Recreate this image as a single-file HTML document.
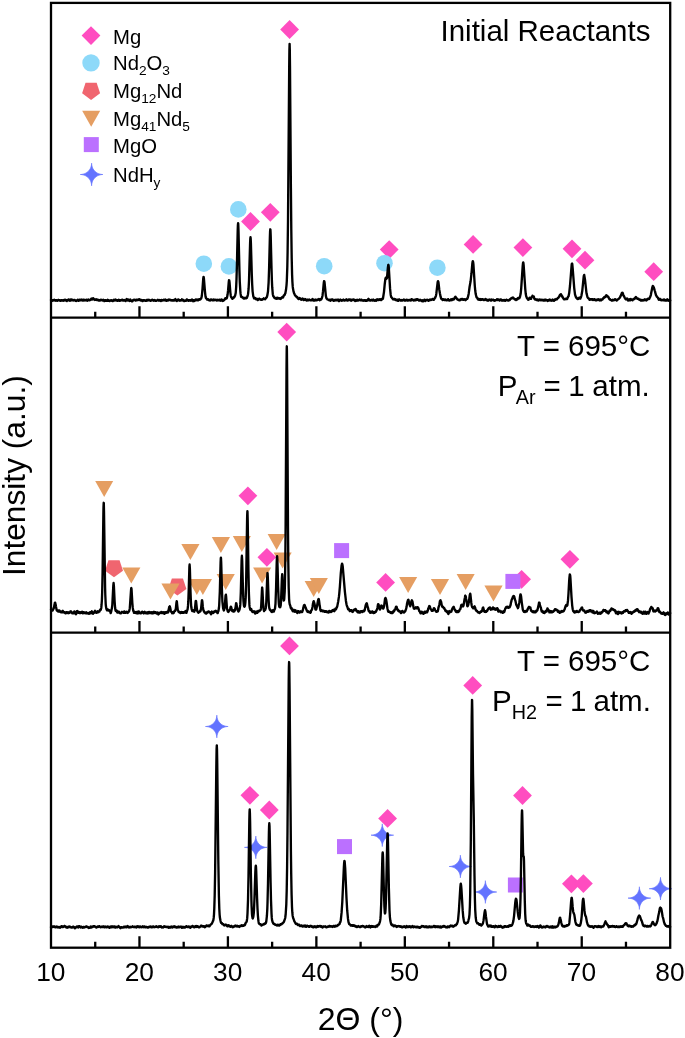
<!DOCTYPE html>
<html><head><meta charset="utf-8"><title>XRD patterns</title>
<style>
html,body{margin:0;padding:0;background:#fff;}
body{width:685px;height:1038px;overflow:hidden;font-family:"Liberation Sans",sans-serif;}
svg{display:block;position:absolute;left:0;top:0;will-change:transform;}
text{-webkit-font-smoothing:antialiased;}
</style></head><body>
<svg width="685" height="1038" viewBox="0 0 685 1038">
<rect width="685" height="1038" fill="#fff"/>
<g fill="#ff4dc0"><path d="M91.0 26.2L100.4 35.6L91.0 45.0L81.6 35.6Z"/><path d="M250.5 212.1L259.9 221.5L250.5 230.9L241.1 221.5Z"/><path d="M270.3 202.9L279.7 212.3L270.3 221.7L260.9 212.3Z"/><path d="M289.6 20.1L299.0 29.5L289.6 38.9L280.2 29.5Z"/><path d="M389.2 240.2L398.6 249.6L389.2 259.0L379.8 249.6Z"/><path d="M473.1 235.0L482.5 244.4L473.1 253.8L463.7 244.4Z"/><path d="M522.9 238.2L532.3 247.6L522.9 257.0L513.5 247.6Z"/><path d="M572.0 239.4L581.4 248.8L572.0 258.2L562.6 248.8Z"/><path d="M585.0 250.8L594.4 260.2L585.0 269.6L575.6 260.2Z"/><path d="M653.7 262.3L663.1 271.7L653.7 281.1L644.3 271.7Z"/><path d="M286.7 322.7L296.1 332.1L286.7 341.5L277.3 332.1Z"/><path d="M247.9 486.4L257.3 495.8L247.9 505.2L238.5 495.8Z"/><path d="M266.9 547.9L276.3 557.3L266.9 566.7L257.5 557.3Z"/><path d="M385.6 573.0L395.0 582.4L385.6 591.8L376.2 582.4Z"/><path d="M521.6 569.9L531.0 579.3L521.6 588.7L512.2 579.3Z"/><path d="M569.9 549.9L579.3 559.3L569.9 568.7L560.5 559.3Z"/><path d="M289.5 636.5L298.9 645.9L289.5 655.3L280.1 645.9Z"/><path d="M249.9 785.9L259.3 795.3L249.9 804.7L240.5 795.3Z"/><path d="M269.3 800.6L278.7 810.0L269.3 819.4L259.9 810.0Z"/><path d="M387.6 809.0L397.0 818.4L387.6 827.8L378.2 818.4Z"/><path d="M472.7 676.0L482.1 685.4L472.7 694.8L463.3 685.4Z"/><path d="M522.5 786.1L531.9 795.5L522.5 804.9L513.1 795.5Z"/><path d="M571.4 874.4L580.8 883.8L571.4 893.2L562.0 883.8Z"/><path d="M583.4 874.2L592.8 883.6L583.4 893.0L574.0 883.6Z"/></g>
<g fill="#8dd9f9"><circle cx="91.0" cy="62.9" r="8.7"/><circle cx="203.8" cy="263.7" r="8.3"/><circle cx="228.9" cy="266.4" r="8.3"/><circle cx="238.3" cy="209.4" r="8.3"/><circle cx="324.2" cy="266.2" r="8.3"/><circle cx="384.5" cy="263.2" r="8.3"/><circle cx="437.4" cy="267.7" r="8.3"/></g>
<g fill="#f0656f"><path d="M91.10 99.90L82.11 93.37L85.55 82.80L96.65 82.80L100.09 93.37Z"/><path d="M114.00 577.35L105.01 570.82L108.45 560.25L119.55 560.25L122.99 570.82Z"/><path d="M177.40 595.55L168.41 589.02L171.85 578.45L182.95 578.45L186.39 589.02Z"/></g>
<g fill="#e59e62"><path d="M82.2 110.8L100.2 110.8L91.2 126.8Z"/><path d="M95.2 480.9L113.2 480.9L104.2 496.9Z"/><path d="M122.3 567.4L140.4 567.4L131.3 583.4Z"/><path d="M161.4 583.5L179.6 583.5L170.5 599.5Z"/><path d="M181.3 543.9L199.5 543.9L190.4 559.9Z"/><path d="M187.8 579.0L205.9 579.0L196.8 595.0Z"/><path d="M193.8 579.0L212.0 579.0L202.9 595.0Z"/><path d="M211.8 537.1L230.0 537.1L220.9 553.1Z"/><path d="M216.6 573.9L234.8 573.9L225.7 589.9Z"/><path d="M232.8 536.1L250.9 536.1L241.8 552.1Z"/><path d="M253.1 567.4L271.2 567.4L262.1 583.4Z"/><path d="M267.6 534.1L285.7 534.1L276.6 550.1Z"/><path d="M273.6 552.5L291.7 552.5L282.6 568.5Z"/><path d="M304.6 581.1L322.8 581.1L313.7 597.1Z"/><path d="M309.8 578.0L327.9 578.0L318.8 594.0Z"/><path d="M399.1 577.0L417.2 577.0L408.1 593.0Z"/><path d="M430.9 579.0L449.1 579.0L440.0 595.0Z"/><path d="M456.6 573.9L474.7 573.9L465.6 589.9Z"/><path d="M484.4 585.6L502.6 585.6L493.5 601.6Z"/></g>
<g fill="#bb70ff"><rect x="83.8" y="137.1" width="15.0" height="15.0"/><rect x="334.1" y="543.1" width="15.0" height="15.0"/><rect x="505.4" y="573.9" width="15.0" height="15.0"/><rect x="337.0" y="839.1" width="15.0" height="15.0"/><rect x="507.9" y="877.5" width="15.0" height="15.0"/></g>
<g fill="#6373ff" stroke="#6373ff" stroke-width="0.7" stroke-linejoin="miter" stroke-miterlimit="20"><path d="M102.90 174.50L102.71 174.50L102.14 174.53L101.24 174.63L100.10 174.86L98.79 175.25L97.41 175.86L96.07 176.70L94.85 177.75L93.80 178.97L92.96 180.31L92.35 181.69L91.96 183.00L91.73 184.14L91.63 185.04L91.60 185.61L91.60 185.80L91.60 185.61L91.57 185.04L91.47 184.14L91.24 183.00L90.85 181.69L90.24 180.31L89.40 178.97L88.35 177.75L87.13 176.70L85.79 175.86L84.41 175.25L83.10 174.86L81.96 174.63L81.06 174.53L80.49 174.50L80.30 174.50L80.49 174.50L81.06 174.47L81.96 174.37L83.10 174.14L84.41 173.75L85.79 173.14L87.13 172.30L88.35 171.25L89.40 170.03L90.24 168.69L90.85 167.31L91.24 166.00L91.47 164.86L91.57 163.96L91.60 163.39L91.60 163.20L91.60 163.39L91.63 163.96L91.73 164.86L91.96 166.00L92.35 167.31L92.96 168.69L93.80 170.03L94.85 171.25L96.07 172.30L97.41 173.14L98.79 173.75L100.10 174.14L101.24 174.37L102.14 174.47L102.71 174.50Z"/><path d="M228.10 726.50L227.91 726.50L227.34 726.53L226.44 726.63L225.30 726.86L223.99 727.25L222.61 727.86L221.27 728.70L220.05 729.75L219.00 730.97L218.16 732.31L217.55 733.69L217.16 735.00L216.93 736.14L216.83 737.04L216.80 737.61L216.80 737.80L216.80 737.61L216.77 737.04L216.67 736.14L216.44 735.00L216.05 733.69L215.44 732.31L214.60 730.97L213.55 729.75L212.33 728.70L210.99 727.86L209.61 727.25L208.30 726.86L207.16 726.63L206.26 726.53L205.69 726.50L205.50 726.50L205.69 726.50L206.26 726.47L207.16 726.37L208.30 726.14L209.61 725.75L210.99 725.14L212.33 724.30L213.55 723.25L214.60 722.03L215.44 720.69L216.05 719.31L216.44 718.00L216.67 716.86L216.77 715.96L216.80 715.39L216.80 715.20L216.80 715.39L216.83 715.96L216.93 716.86L217.16 718.00L217.55 719.31L218.16 720.69L219.00 722.03L220.05 723.25L221.27 724.30L222.61 725.14L223.99 725.75L225.30 726.14L226.44 726.37L227.34 726.47L227.91 726.50Z"/><path d="M267.10 847.40L266.91 847.40L266.34 847.43L265.44 847.53L264.30 847.76L262.99 848.15L261.61 848.76L260.27 849.60L259.05 850.65L258.00 851.87L257.16 853.21L256.55 854.59L256.16 855.90L255.93 857.04L255.83 857.94L255.80 858.51L255.80 858.70L255.80 858.51L255.77 857.94L255.67 857.04L255.44 855.90L255.05 854.59L254.44 853.21L253.60 851.87L252.55 850.65L251.33 849.60L249.99 848.76L248.61 848.15L247.30 847.76L246.16 847.53L245.26 847.43L244.69 847.40L244.50 847.40L244.69 847.40L245.26 847.37L246.16 847.27L247.30 847.04L248.61 846.65L249.99 846.04L251.33 845.20L252.55 844.15L253.60 842.93L254.44 841.59L255.05 840.21L255.44 838.90L255.67 837.76L255.77 836.86L255.80 836.29L255.80 836.10L255.80 836.29L255.83 836.86L255.93 837.76L256.16 838.90L256.55 840.21L257.16 841.59L258.00 842.93L259.05 844.15L260.27 845.20L261.61 846.04L262.99 846.65L264.30 847.04L265.44 847.27L266.34 847.37L266.91 847.40Z"/><path d="M393.60 835.20L393.41 835.20L392.84 835.23L391.94 835.33L390.80 835.56L389.49 835.95L388.11 836.56L386.77 837.40L385.55 838.45L384.50 839.67L383.66 841.01L383.05 842.39L382.66 843.70L382.43 844.84L382.33 845.74L382.30 846.31L382.30 846.50L382.30 846.31L382.27 845.74L382.17 844.84L381.94 843.70L381.55 842.39L380.94 841.01L380.10 839.67L379.05 838.45L377.83 837.40L376.49 836.56L375.11 835.95L373.80 835.56L372.66 835.33L371.76 835.23L371.19 835.20L371.00 835.20L371.19 835.20L371.76 835.17L372.66 835.07L373.80 834.84L375.11 834.45L376.49 833.84L377.83 833.00L379.05 831.95L380.10 830.73L380.94 829.39L381.55 828.01L381.94 826.70L382.17 825.56L382.27 824.66L382.30 824.09L382.30 823.90L382.30 824.09L382.33 824.66L382.43 825.56L382.66 826.70L383.05 828.01L383.66 829.39L384.50 830.73L385.55 831.95L386.77 833.00L388.11 833.84L389.49 834.45L390.80 834.84L391.94 835.07L392.84 835.17L393.41 835.20Z"/><path d="M471.70 866.50L471.51 866.50L470.94 866.53L470.04 866.63L468.90 866.86L467.59 867.25L466.21 867.86L464.87 868.70L463.65 869.75L462.60 870.97L461.76 872.31L461.15 873.69L460.76 875.00L460.53 876.14L460.43 877.04L460.40 877.61L460.40 877.80L460.40 877.61L460.37 877.04L460.27 876.14L460.04 875.00L459.65 873.69L459.04 872.31L458.20 870.97L457.15 869.75L455.93 868.70L454.59 867.86L453.21 867.25L451.90 866.86L450.76 866.63L449.86 866.53L449.29 866.50L449.10 866.50L449.29 866.50L449.86 866.47L450.76 866.37L451.90 866.14L453.21 865.75L454.59 865.14L455.93 864.30L457.15 863.25L458.20 862.03L459.04 860.69L459.65 859.31L460.04 858.00L460.27 856.86L460.37 855.96L460.40 855.39L460.40 855.20L460.40 855.39L460.43 855.96L460.53 856.86L460.76 858.00L461.15 859.31L461.76 860.69L462.60 862.03L463.65 863.25L464.87 864.30L466.21 865.14L467.59 865.75L468.90 866.14L470.04 866.37L470.94 866.47L471.51 866.50Z"/><path d="M496.70 892.00L496.51 892.00L495.94 892.03L495.04 892.13L493.90 892.36L492.59 892.75L491.21 893.36L489.87 894.20L488.65 895.25L487.60 896.47L486.76 897.81L486.15 899.19L485.76 900.50L485.53 901.64L485.43 902.54L485.40 903.11L485.40 903.30L485.40 903.11L485.37 902.54L485.27 901.64L485.04 900.50L484.65 899.19L484.04 897.81L483.20 896.47L482.15 895.25L480.93 894.20L479.59 893.36L478.21 892.75L476.90 892.36L475.76 892.13L474.86 892.03L474.29 892.00L474.10 892.00L474.29 892.00L474.86 891.97L475.76 891.87L476.90 891.64L478.21 891.25L479.59 890.64L480.93 889.80L482.15 888.75L483.20 887.53L484.04 886.19L484.65 884.81L485.04 883.50L485.27 882.36L485.37 881.46L485.40 880.89L485.40 880.70L485.40 880.89L485.43 881.46L485.53 882.36L485.76 883.50L486.15 884.81L486.76 886.19L487.60 887.53L488.65 888.75L489.87 889.80L491.21 890.64L492.59 891.25L493.90 891.64L495.04 891.87L495.94 891.97L496.51 892.00Z"/><path d="M650.70 898.10L650.51 898.10L649.94 898.13L649.04 898.23L647.90 898.46L646.59 898.85L645.21 899.46L643.87 900.30L642.65 901.35L641.60 902.57L640.76 903.91L640.15 905.29L639.76 906.60L639.53 907.74L639.43 908.64L639.40 909.21L639.40 909.40L639.40 909.21L639.37 908.64L639.27 907.74L639.04 906.60L638.65 905.29L638.04 903.91L637.20 902.57L636.15 901.35L634.93 900.30L633.59 899.46L632.21 898.85L630.90 898.46L629.76 898.23L628.86 898.13L628.29 898.10L628.10 898.10L628.29 898.10L628.86 898.07L629.76 897.97L630.90 897.74L632.21 897.35L633.59 896.74L634.93 895.90L636.15 894.85L637.20 893.63L638.04 892.29L638.65 890.91L639.04 889.60L639.27 888.46L639.37 887.56L639.40 886.99L639.40 886.80L639.40 886.99L639.43 887.56L639.53 888.46L639.76 889.60L640.15 890.91L640.76 892.29L641.60 893.63L642.65 894.85L643.87 895.90L645.21 896.74L646.59 897.35L647.90 897.74L649.04 897.97L649.94 898.07L650.51 898.10Z"/><path d="M671.80 888.70L671.61 888.70L671.04 888.73L670.14 888.83L669.00 889.06L667.69 889.45L666.31 890.06L664.97 890.90L663.75 891.95L662.70 893.17L661.86 894.51L661.25 895.89L660.86 897.20L660.63 898.34L660.53 899.24L660.50 899.81L660.50 900.00L660.50 899.81L660.47 899.24L660.37 898.34L660.14 897.20L659.75 895.89L659.14 894.51L658.30 893.17L657.25 891.95L656.03 890.90L654.69 890.06L653.31 889.45L652.00 889.06L650.86 888.83L649.96 888.73L649.39 888.70L649.20 888.70L649.39 888.70L649.96 888.67L650.86 888.57L652.00 888.34L653.31 887.95L654.69 887.34L656.03 886.50L657.25 885.45L658.30 884.23L659.14 882.89L659.75 881.51L660.14 880.20L660.37 879.06L660.47 878.16L660.50 877.59L660.50 877.40L660.50 877.59L660.53 878.16L660.63 879.06L660.86 880.20L661.25 881.51L661.86 882.89L662.70 884.23L663.75 885.45L664.97 886.50L666.31 887.34L667.69 887.95L669.00 888.34L670.14 888.57L671.04 888.67L671.61 888.70Z"/></g>
<g fill="none" stroke="#000" stroke-width="2.35" stroke-linejoin="round" stroke-linecap="round">
<path d="M51.00 300.02L51.20 300.00L51.60 300.47L51.70 300.35L51.80 300.37L52.00 300.92L52.30 300.67L52.40 300.73L52.50 300.53L52.60 300.54L52.90 300.07L53.10 299.99L53.30 300.29L53.40 300.18L53.50 300.35L53.60 300.38L53.70 300.26L53.90 300.28L54.00 300.40L54.20 300.10L54.30 300.30L54.50 299.83L54.80 300.27L54.90 300.21L55.40 300.73L55.50 300.70L55.60 300.43L55.70 300.46L55.90 300.24L56.00 300.48L56.10 300.24L56.30 300.48L56.40 300.31L56.50 300.44L56.60 300.35L56.80 300.58L56.90 300.36L57.10 300.81L57.20 300.69L57.40 300.71L57.70 300.16L57.90 300.28L58.10 299.88L58.40 300.21L58.50 300.11L58.60 300.27L58.80 300.07L59.10 300.26L59.30 300.21L59.60 300.61L59.90 300.30L60.00 300.36L60.10 300.26L60.40 300.70L60.50 300.59L60.60 300.81L60.80 300.60L61.10 300.65L61.30 300.22L61.40 300.31L61.50 300.10L61.70 300.42L61.80 300.34L61.90 300.59L62.00 300.39L62.30 300.19L62.50 300.60L62.80 300.39L63.00 300.37L63.20 300.72L63.60 300.25L63.90 300.48L64.10 299.95L64.30 300.10L64.40 300.06L64.50 300.31L64.80 300.11L65.20 300.17L65.30 300.27L65.50 299.83L66.00 300.07L66.40 300.84L66.80 301.09L67.00 300.66L67.20 300.40L67.30 300.42L67.40 300.17L67.50 300.23L67.60 299.95L67.70 300.17L67.90 300.32L68.20 299.81L68.50 300.14L68.90 299.48L69.10 299.78L69.30 299.74L69.40 299.85L69.60 300.17L69.70 300.58L69.90 300.60L70.00 300.74L70.60 299.48L70.80 300.05L71.00 299.84L71.40 300.38L71.80 299.53L72.10 300.08L72.20 299.76L72.40 300.11L72.50 300.02L72.60 300.34L72.90 300.36L73.00 300.05L73.10 300.25L73.30 300.03L73.40 300.19L73.50 300.14L73.60 300.43L73.90 300.52L74.20 300.40L74.60 299.93L74.80 299.86L75.00 300.43L75.40 300.39L75.70 300.86L75.80 300.90L75.90 300.66L76.30 300.94L76.40 300.84L76.60 300.88L76.90 300.52L77.00 300.65L77.10 300.58L77.30 300.34L77.50 299.81L77.60 299.78L77.70 299.78L77.80 299.93L78.00 299.82L78.70 300.87L78.80 300.67L78.90 300.77L79.00 300.72L79.20 300.26L79.30 300.45L79.40 300.09L79.60 299.81L79.70 299.93L80.00 299.73L80.10 300.15L80.20 299.85L80.50 300.32L80.90 300.18L81.40 299.58L81.60 300.01L81.70 299.81L81.80 300.05L81.90 300.02L82.30 300.52L82.70 299.98L82.80 299.99L83.00 299.73L83.10 299.81L83.20 299.75L83.40 299.81L83.50 300.30L83.60 300.30L83.70 300.47L83.80 300.37L83.90 300.54L84.00 300.53L84.20 300.10L84.30 300.16L84.40 299.94L84.50 299.92L84.80 300.24L84.90 300.09L85.20 300.32L85.30 300.17L85.60 300.32L85.80 300.04L85.90 300.42L86.00 300.46L86.10 300.29L86.30 300.47L86.50 300.11L86.70 300.17L86.80 299.62L87.10 299.81L87.20 300.04L87.40 300.11L87.50 300.00L87.70 300.71L88.00 300.19L88.10 299.78L88.20 299.98L88.40 299.79L88.50 299.52L89.00 300.05L89.10 299.98L89.40 300.32L89.50 300.18L89.70 300.37L90.00 300.15L90.10 299.85L90.20 299.94L90.40 299.87L90.70 299.34L90.80 299.54L90.90 299.46L91.00 299.54L91.10 299.23L91.20 299.21L91.30 298.71L91.60 299.08L91.80 298.65L91.90 298.73L92.10 298.96L92.20 299.52L92.50 299.10L92.70 299.15L92.90 298.60L93.10 298.24L93.20 298.22L93.40 298.70L93.60 298.57L93.80 299.08L93.90 299.06L94.20 299.51L94.30 299.31L94.50 299.74L94.60 299.73L94.80 299.97L94.90 299.94L95.00 299.56L95.10 299.51L95.20 299.77L95.40 299.89L95.70 299.45L95.80 299.46L95.90 299.80L96.10 299.28L96.20 299.23L96.60 299.93L97.00 299.92L97.10 300.20L97.40 299.77L97.70 299.68L97.80 299.95L97.90 299.97L98.00 299.77L98.20 299.93L98.30 300.24L98.50 300.18L98.60 300.32L98.70 300.25L98.90 300.55L99.50 300.29L99.60 300.41L99.70 300.22L99.80 300.31L100.00 300.11L100.30 300.43L100.50 300.09L100.60 300.17L100.80 300.01L100.90 300.10L101.00 299.70L101.10 299.85L101.20 299.75L101.30 300.11L101.60 299.88L101.80 300.00L101.90 300.25L102.00 300.18L102.20 300.26L102.30 300.06L102.60 300.43L102.70 300.29L103.00 300.20L103.10 299.97L103.20 300.13L103.40 299.92L103.50 300.01L103.60 299.96L103.80 300.36L103.90 300.37L104.20 301.11L104.30 301.15L104.40 300.85L104.60 301.12L104.70 300.82L104.80 300.85L104.90 300.45L105.10 300.23L105.20 300.21L105.40 300.54L105.50 300.17L105.70 300.11L105.80 300.51L105.90 300.58L106.00 300.47L106.20 300.73L106.30 300.51L106.60 300.79L106.70 300.78L107.00 300.50L107.20 300.12L107.30 300.09L107.40 300.20L107.60 299.85L107.80 300.30L108.00 300.31L108.10 300.72L108.30 300.63L108.40 300.83L108.80 300.32L108.90 300.53L109.00 300.44L109.10 300.73L109.20 300.81L109.30 300.68L109.40 300.72L109.70 301.10L109.80 300.76L110.10 300.44L110.20 300.40L110.40 300.54L110.60 300.42L110.80 300.50L111.00 300.27L111.40 300.14L111.70 300.37L112.00 300.82L112.10 300.71L112.20 300.79L112.30 301.03L112.50 301.02L112.80 300.63L113.00 300.98L113.20 300.22L113.30 300.31L113.40 300.12L113.50 300.28L113.60 300.04L113.70 300.19L113.90 299.78L114.10 300.41L114.20 300.17L114.30 300.42L114.40 300.35L114.50 300.56L114.70 300.23L114.80 300.28L115.00 299.96L115.10 300.01L115.40 299.54L115.50 299.59L115.60 299.91L115.70 299.68L116.10 300.42L116.20 300.17L116.60 300.53L116.90 300.13L117.00 300.14L117.30 300.67L117.50 300.60L117.60 300.75L117.70 300.68L117.80 300.79L118.00 300.72L118.30 300.41L118.40 300.13L118.50 300.20L118.60 299.93L118.80 299.77L119.00 299.95L119.20 299.93L119.50 300.77L119.60 300.55L119.80 300.50L119.90 300.87L120.20 300.68L120.40 300.24L120.50 300.60L120.90 300.11L121.10 300.24L121.30 300.21L121.40 300.02L121.50 300.28L121.70 299.89L122.00 299.73L122.30 299.94L122.40 299.76L122.50 299.80L122.70 300.29L122.90 300.26L123.10 300.56L123.30 300.50L123.40 300.63L123.50 300.27L123.80 300.45L124.10 299.98L124.30 300.16L124.40 300.43L124.60 300.11L124.70 300.11L124.90 300.32L125.00 300.64L125.20 300.63L125.30 300.90L125.40 300.81L125.50 301.05L125.60 300.83L125.70 300.96L125.90 300.58L126.00 300.56L126.30 299.52L126.70 299.00L126.90 299.44L127.10 299.60L127.30 300.41L127.40 300.44L127.50 300.22L127.60 300.28L127.80 300.08L128.00 300.21L128.30 299.49L128.40 299.75L128.70 299.91L129.30 300.91L129.50 300.70L129.80 300.08L129.90 300.07L130.00 299.82L130.10 299.83L130.30 299.49L130.60 300.21L130.80 300.38L130.90 300.81L131.00 300.61L131.10 300.65L131.30 301.06L131.40 300.73L131.70 300.82L131.90 301.06L132.00 301.41L132.20 301.27L132.30 301.33L132.60 301.21L132.90 300.19L133.10 300.44L133.20 300.13L133.50 299.81L133.60 300.01L133.70 300.04L134.00 299.86L134.10 300.10L134.20 300.10L134.40 299.91L134.70 300.01L134.80 299.82L135.20 300.17L135.30 300.45L135.50 300.38L135.60 300.48L135.90 300.24L136.00 299.97L136.10 300.10L136.20 300.02L136.30 299.72L136.40 300.02L136.60 300.20L136.80 300.20L136.90 300.38L137.10 299.93L137.20 300.16L137.30 300.02L137.40 300.08L137.50 300.01L137.60 299.73L138.00 299.83L138.30 299.49L138.50 299.97L138.60 299.81L139.10 299.65L139.30 299.26L139.40 299.44L139.60 299.53L139.70 299.85L139.90 299.90L140.10 300.35L140.30 299.82L140.40 300.16L140.50 300.22L140.60 299.98L140.80 300.24L141.00 299.89L141.20 300.55L141.30 300.25L141.50 300.45L141.70 300.42L141.80 300.17L141.90 300.52L142.00 300.35L142.10 300.38L142.50 300.98L142.60 300.82L142.70 301.15L142.90 300.81L143.20 300.67L143.30 300.24L143.40 300.21L143.50 300.34L143.60 300.27L143.70 300.51L143.80 300.52L144.10 300.28L144.20 300.42L144.70 300.22L144.80 300.37L145.00 300.34L145.10 300.53L145.40 300.54L145.60 300.87L145.80 300.71L146.10 300.89L146.60 300.07L146.70 300.40L147.00 300.12L147.20 300.52L147.40 300.36L147.50 300.41L147.60 300.11L147.70 300.31L147.90 300.21L148.10 299.72L148.50 300.10L148.60 299.98L148.90 300.04L149.00 300.29L149.10 300.08L149.30 300.24L149.40 300.05L149.60 300.02L149.80 300.32L149.90 300.18L150.00 300.52L150.10 300.33L150.30 300.79L150.40 300.42L150.50 300.68L150.70 300.85L151.10 300.31L151.20 300.32L151.30 300.52L151.50 300.52L151.80 299.99L151.90 300.30L152.00 300.33L152.40 299.75L152.70 300.22L152.90 299.94L153.10 300.40L153.20 300.41L153.30 300.16L153.40 300.38L153.60 300.33L153.80 300.71L154.00 300.22L154.30 300.30L154.40 300.49L154.70 300.07L155.00 300.58L155.20 300.60L155.30 300.38L155.40 300.40L155.70 300.80L155.80 300.68L155.90 300.73L156.10 300.63L156.30 300.86L156.90 300.41L157.10 300.13L157.30 300.26L157.50 299.94L157.80 299.82L158.00 300.17L158.10 300.00L158.20 300.01L158.40 300.22L158.50 300.17L158.60 300.33L158.80 300.35L159.00 300.71L159.20 300.68L159.50 300.37L159.60 300.45L159.80 300.39L159.90 300.08L160.20 300.28L160.40 300.74L160.60 300.53L160.80 300.90L160.90 300.84L161.00 301.00L161.30 300.17L161.60 300.03L161.80 300.08L161.90 300.00L162.20 300.60L162.30 300.46L162.50 300.50L162.70 300.16L162.90 300.32L163.00 300.15L163.10 300.11L163.20 300.21L163.40 299.97L163.50 300.05L163.70 299.85L163.90 299.97L164.00 299.82L164.30 300.26L164.40 300.22L164.50 300.30L164.80 300.02L164.90 300.23L165.10 299.80L165.20 299.66L165.30 299.77L165.40 299.51L165.70 299.83L165.80 299.67L165.90 299.80L166.10 300.53L166.30 300.81L166.40 300.64L166.50 300.79L166.60 300.63L166.80 300.61L167.00 300.15L167.30 300.22L167.40 300.04L167.60 300.41L167.70 300.25L167.90 300.52L168.00 300.51L168.20 300.36L168.40 299.93L168.50 299.93L168.60 300.18L168.80 299.56L168.90 299.38L169.00 299.38L169.20 299.67L169.70 299.72L169.90 299.98L170.00 299.89L170.10 299.97L170.20 299.91L170.30 300.03L170.50 299.95L170.70 300.29L170.90 299.95L171.00 300.12L171.10 300.17L171.20 300.10L171.50 300.41L171.60 300.24L171.70 300.48L171.80 300.33L171.90 300.45L172.00 300.35L172.20 300.51L172.40 300.51L172.60 300.17L172.70 300.45L172.80 300.26L172.90 300.58L173.20 300.14L173.40 300.20L173.50 300.44L173.80 299.87L173.90 300.06L174.10 299.91L174.50 300.41L174.80 299.75L175.00 299.71L175.20 299.20L175.40 299.08L175.50 299.64L175.70 300.06L175.80 300.00L176.00 300.43L176.60 300.99L176.70 300.89L176.80 301.01L176.90 300.87L177.00 300.92L177.30 300.49L177.40 300.13L177.50 300.07L177.60 300.24L177.70 299.78L178.00 299.57L178.30 299.70L178.40 299.43L178.50 299.44L178.60 299.86L178.90 300.38L179.20 300.34L179.30 300.53L179.50 300.51L179.60 300.65L179.80 300.19L180.30 300.53L180.50 300.20L180.80 300.56L181.00 300.28L181.10 300.50L181.50 300.11L181.60 300.18L181.70 299.99L181.90 299.93L182.00 299.29L182.30 299.59L182.40 299.93L182.50 299.79L182.70 299.98L182.90 300.41L183.10 300.05L183.40 299.94L184.10 301.08L184.50 301.03L184.60 300.71L184.70 300.78L184.80 300.58L185.20 300.70L185.40 300.31L185.70 300.35L185.90 300.80L186.10 300.79L186.20 300.50L186.40 300.44L186.80 299.46L187.00 299.39L187.20 300.01L187.30 299.95L187.40 300.23L187.50 300.28L187.70 300.08L187.80 300.36L187.90 300.44L188.10 300.39L188.20 300.58L188.30 300.33L188.40 300.71L188.50 300.79L188.70 300.28L188.80 300.23L188.90 300.38L189.10 300.26L189.20 300.46L189.30 300.10L189.50 300.27L189.60 300.64L189.80 300.39L190.10 300.26L190.40 300.58L190.50 300.15L190.60 300.42L191.00 300.68L191.10 300.60L191.20 300.18L191.30 300.08L191.40 300.30L191.70 299.68L192.00 299.54L192.20 299.99L192.40 300.16L192.60 300.75L192.70 300.72L193.00 301.23L193.60 300.13L193.70 300.30L194.00 300.20L194.10 300.50L194.20 300.38L194.30 300.47L194.50 300.96L194.70 300.79L195.00 300.25L195.10 300.44L195.20 300.43L195.40 299.67L195.60 299.42L195.80 299.75L196.10 299.79L196.20 300.19L196.30 300.22L196.40 300.05L196.70 299.94L197.00 299.47L197.10 299.49L197.40 299.86L197.60 299.96L197.70 300.26L197.90 300.42L198.10 300.19L198.20 300.20L198.30 299.83L198.40 299.75L198.50 299.89L198.90 299.33L199.00 299.43L199.10 299.40L199.20 299.76L199.60 299.35L199.80 299.50L199.90 299.31L200.00 299.57L200.10 299.39L200.30 299.41L200.40 299.26L200.50 299.30L200.60 298.94L200.80 298.76L200.90 298.47L201.20 298.34L201.70 296.65L201.90 295.26L202.50 288.82L203.20 279.02L203.50 277.01L203.70 277.11L203.90 278.45L204.90 290.87L205.50 296.36L205.90 297.99L206.20 298.15L206.60 298.64L206.70 299.06L206.80 298.97L207.00 299.56L207.20 299.51L207.30 299.24L207.40 299.48L207.60 299.24L207.70 299.50L208.10 299.22L208.20 299.57L208.30 299.47L208.40 299.51L208.50 299.84L208.70 299.65L209.00 300.36L209.10 300.16L209.20 300.32L209.40 300.10L209.50 300.35L209.80 300.10L210.00 300.49L210.10 300.27L210.20 300.47L210.30 300.40L210.90 299.45L211.00 299.57L211.20 299.45L211.30 299.70L211.60 300.02L212.00 300.06L212.20 300.27L212.60 299.89L212.70 300.16L212.80 299.84L213.00 300.19L213.10 299.62L213.20 299.52L213.50 299.89L213.60 299.78L213.70 300.24L213.90 299.76L214.10 300.16L214.20 299.89L214.50 299.82L214.60 299.64L214.70 299.82L214.80 299.66L215.10 300.05L215.20 299.88L215.70 300.01L215.90 299.71L216.00 299.76L216.10 300.10L216.30 300.02L216.40 300.21L216.80 300.51L217.00 300.35L217.10 300.00L217.20 300.09L217.30 299.85L217.50 299.84L217.60 299.98L217.70 299.88L217.80 300.09L218.10 300.22L218.50 300.09L218.60 300.24L218.70 299.92L218.80 300.00L218.90 299.88L219.10 300.09L219.20 299.90L219.40 299.92L219.50 299.69L219.60 300.05L219.70 300.03L219.80 300.29L220.00 300.29L220.20 300.55L220.30 300.50L220.40 300.74L220.80 300.44L221.00 300.39L221.10 299.80L221.20 299.82L221.30 299.55L221.50 299.44L221.90 299.54L222.00 300.22L222.20 300.64L222.30 300.40L222.40 300.70L222.60 300.78L222.70 300.61L222.80 300.94L223.00 300.72L223.10 300.87L223.20 300.85L223.30 300.70L223.60 300.56L223.80 300.19L223.90 300.32L224.00 300.05L224.10 300.13L224.20 299.94L224.30 300.00L224.50 299.87L224.90 298.73L225.10 298.68L225.30 298.29L225.50 298.28L225.60 298.54L225.70 298.29L225.80 298.72L225.90 298.54L226.20 298.56L226.30 298.39L226.40 298.57L226.50 298.18L226.60 298.46L226.70 298.03L226.80 298.05L226.90 297.94L227.00 297.55L227.60 294.52L228.10 290.22L228.80 281.64L229.00 280.20L229.10 280.18L229.20 280.31L229.50 281.96L230.40 292.85L230.80 295.67L231.10 297.13L231.50 297.46L231.70 297.84L231.80 297.80L232.10 298.62L232.30 298.89L232.40 298.89L232.60 298.47L232.70 298.61L232.90 298.03L233.20 297.60L233.30 297.90L233.60 297.61L233.70 297.68L234.10 297.55L234.30 296.82L234.40 297.09L234.90 295.96L235.10 295.77L235.70 293.09L235.90 290.74L236.20 286.53L236.50 279.13L236.90 265.59L237.70 230.60L237.90 225.14L238.10 223.18L238.20 223.41L238.30 225.01L238.50 230.50L239.40 269.63L239.80 282.19L240.30 290.75L240.60 293.89L241.10 296.85L241.30 297.09L241.40 296.84L241.50 296.93L241.60 296.77L241.80 297.05L242.00 297.09L242.10 296.89L242.20 296.91L242.50 297.47L242.60 297.29L242.70 297.56L242.90 297.55L243.20 298.08L243.30 297.88L243.50 298.31L243.90 298.68L244.10 298.68L244.30 298.25L244.40 298.38L244.50 298.31L244.60 298.04L244.70 298.19L244.80 298.10L244.90 298.27L245.00 298.12L245.20 298.36L245.40 297.87L245.60 298.03L245.80 297.78L246.20 298.25L246.40 298.32L246.70 297.99L246.80 298.00L246.90 297.82L247.00 297.37L247.50 296.19L247.90 294.73L248.10 293.59L248.60 288.72L249.00 280.88L250.10 243.05L250.30 238.59L250.50 237.22L250.70 238.71L250.90 243.17L251.80 274.56L252.20 284.70L252.60 291.32L253.30 296.30L253.50 296.60L253.80 297.75L254.00 297.96L254.10 298.35L254.20 298.13L254.30 298.12L254.40 298.25L254.70 298.23L254.80 298.42L255.10 297.94L255.20 298.24L255.30 298.15L255.60 298.85L255.80 298.82L256.00 299.33L256.20 299.44L256.40 299.36L256.60 298.85L256.70 299.08L256.90 298.77L257.10 298.87L257.30 299.13L257.60 299.91L257.70 299.77L257.80 300.09L257.90 299.93L258.00 300.02L258.10 299.91L258.20 299.55L258.40 299.39L258.50 299.08L258.70 299.28L258.90 298.91L259.00 299.04L259.30 298.98L259.40 299.18L259.60 298.89L259.70 298.88L259.80 299.02L259.90 298.93L260.20 299.38L260.30 299.34L260.40 299.53L260.90 299.83L261.00 299.82L261.30 299.36L261.40 299.35L261.60 299.60L261.80 299.58L262.10 299.72L262.50 299.37L262.60 299.49L262.80 299.06L263.00 298.92L263.10 299.19L263.50 298.57L263.60 298.80L263.80 298.51L263.90 298.58L264.00 298.43L264.10 298.43L264.40 298.76L264.50 298.62L264.90 299.21L265.10 299.06L265.20 299.26L265.50 298.60L265.60 298.66L265.80 298.18L265.90 298.24L266.10 297.69L266.20 297.67L266.30 297.79L266.90 297.00L267.20 295.65L267.30 295.56L268.00 291.52L268.60 282.58L269.10 268.25L269.90 236.27L270.10 231.17L270.30 229.30L270.40 229.48L270.50 230.90L270.70 235.62L271.50 267.90L271.90 280.63L272.20 287.20L272.80 294.22L273.30 296.33L273.50 296.55L273.60 296.32L273.80 297.02L274.10 297.34L274.20 297.29L274.50 297.89L274.60 297.83L274.80 298.09L274.90 298.05L275.30 298.56L275.50 298.55L275.90 297.90L276.10 298.11L276.20 298.01L276.30 298.11L276.40 298.00L276.70 298.92L276.80 298.94L277.00 298.54L277.40 298.45L277.60 297.80L277.90 298.17L278.10 297.92L278.40 298.34L278.90 298.44L279.00 298.74L279.10 298.73L279.20 298.47L279.50 298.36L279.60 298.10L280.20 298.41L280.70 298.88L281.10 298.25L281.20 298.48L281.70 297.52L281.80 297.67L281.90 297.44L282.00 297.63L282.10 297.29L282.30 297.60L282.50 297.65L282.70 297.41L283.00 297.45L283.50 296.32L283.70 295.60L283.90 295.34L284.00 295.50L284.10 295.48L284.40 295.06L284.60 295.06L284.70 294.66L284.80 294.62L285.10 293.43L285.20 293.61L285.30 293.40L286.00 289.82L286.50 285.47L286.80 281.05L287.30 267.15L287.60 252.34L288.00 220.88L289.20 66.43L289.40 49.93L289.60 43.83L289.80 50.10L290.00 66.47L290.90 187.88L291.30 230.11L291.70 258.01L292.10 274.87L292.40 281.87L292.70 286.13L292.90 288.08L293.60 291.85L293.90 292.49L294.10 293.40L294.40 293.72L294.70 294.69L294.90 295.00L295.20 295.20L295.40 295.77L295.50 295.62L295.60 295.64L296.00 296.36L296.20 296.53L296.30 296.48L296.40 296.63L296.50 296.92L296.70 296.97L296.80 296.81L296.90 296.87L297.00 297.23L297.10 297.03L297.20 297.06L297.40 297.32L297.70 298.31L297.80 298.38L297.90 298.19L298.00 298.46L298.10 298.43L298.50 298.95L298.70 298.68L298.90 298.87L299.00 298.84L299.40 298.22L299.60 298.08L299.70 298.34L299.80 298.15L300.10 298.46L300.40 299.14L300.60 299.09L300.80 299.61L300.90 299.51L301.20 299.62L301.30 299.53L301.40 299.73L301.60 299.56L302.00 298.79L302.10 298.91L302.20 298.90L302.40 298.66L302.70 298.63L302.80 298.91L302.90 298.75L303.00 298.85L303.10 299.26L303.60 300.00L303.70 299.88L303.90 299.97L304.00 299.62L304.20 299.88L304.30 299.64L304.40 299.61L304.60 299.59L304.70 299.73L305.00 299.36L305.10 299.05L305.40 299.33L305.50 299.14L305.70 299.68L305.90 299.77L306.10 300.10L306.20 300.08L306.40 300.38L306.60 300.07L306.90 300.56L307.00 300.37L307.10 300.35L307.20 299.97L307.30 300.40L307.50 300.23L307.60 299.97L307.80 299.98L307.90 299.88L308.10 300.24L308.20 299.85L308.40 300.13L308.60 299.89L308.80 300.15L309.00 299.85L309.10 299.88L309.30 299.46L309.50 299.86L309.60 299.73L309.80 300.06L309.90 300.04L310.40 300.43L310.60 300.44L310.70 300.20L310.80 300.38L310.90 300.11L311.10 300.17L311.30 299.87L311.40 300.08L311.60 299.86L311.80 300.14L312.00 299.62L312.10 299.63L312.30 299.19L312.50 299.20L312.60 298.96L312.70 299.05L312.90 300.03L313.10 300.43L313.30 300.56L313.90 300.19L314.00 300.43L314.10 300.38L314.30 300.59L314.50 300.62L314.90 299.83L315.00 300.06L315.10 300.09L315.40 299.93L315.70 300.24L316.00 299.85L316.40 300.35L316.50 300.12L316.70 300.26L316.90 299.96L317.00 299.92L317.10 300.10L317.30 299.66L317.40 299.74L317.60 299.46L317.70 299.71L317.80 299.75L318.10 299.73L318.40 299.56L318.50 299.63L318.90 299.04L319.40 299.93L319.80 300.24L319.90 300.20L320.40 299.30L320.50 299.57L320.60 299.51L320.70 299.62L320.80 299.42L320.90 299.55L321.00 299.41L321.10 299.57L321.20 299.51L321.90 297.99L322.50 295.68L323.00 291.48L323.80 282.73L324.00 281.52L324.10 281.16L324.20 281.11L324.50 281.94L325.90 296.04L326.40 298.34L326.70 298.68L326.90 298.55L327.10 299.18L327.20 299.24L327.40 299.15L327.50 299.40L327.60 299.34L327.90 299.56L328.00 299.44L328.10 299.61L328.40 299.75L328.50 299.65L328.90 300.09L329.00 299.90L329.20 300.22L329.50 300.17L329.70 299.60L329.90 300.19L330.20 300.24L330.50 300.76L330.90 300.10L331.00 300.12L331.20 299.88L331.30 299.48L331.40 299.41L331.80 299.91L331.90 299.76L332.00 299.80L332.10 299.69L332.20 299.84L332.40 299.86L332.70 299.51L332.90 299.83L333.00 300.29L333.10 300.13L333.40 300.66L333.50 300.60L333.80 300.75L334.10 300.74L334.20 300.53L334.50 300.39L334.60 300.18L334.70 300.26L334.80 299.91L334.90 300.07L335.10 300.07L335.20 300.27L335.30 300.06L335.50 300.26L335.60 300.02L335.70 300.24L335.80 300.10L335.90 300.14L336.00 300.42L336.10 300.19L336.20 300.33L336.40 300.09L336.50 300.15L336.60 300.05L336.70 300.22L336.80 300.20L336.90 299.95L337.00 299.96L337.40 300.43L337.60 300.35L337.80 299.79L337.90 299.96L338.10 299.58L338.50 300.17L338.70 300.87L339.00 301.19L339.50 300.67L339.70 300.03L339.80 300.03L340.00 299.79L340.10 299.83L340.20 299.74L340.30 299.84L340.50 299.71L341.10 300.18L341.20 300.03L341.40 300.54L341.60 300.58L341.70 300.74L341.90 300.46L342.00 300.46L342.10 300.63L342.60 299.88L342.80 300.00L343.00 299.87L343.10 300.03L343.20 299.75L343.30 300.03L343.40 299.84L343.60 299.95L343.70 299.84L343.80 300.15L344.00 300.13L344.10 300.40L344.20 300.22L344.30 300.56L344.40 300.41L344.50 300.52L344.80 300.28L345.00 300.28L345.20 299.96L345.30 300.08L345.40 299.96L345.60 299.98L345.70 300.18L346.00 299.65L346.30 299.63L346.60 299.31L346.80 300.02L347.10 300.19L347.30 300.52L347.40 300.29L347.50 300.37L347.60 300.06L347.90 300.45L348.10 300.16L348.30 300.21L348.80 299.48L348.90 299.65L349.10 299.54L349.50 300.10L349.60 299.89L349.90 299.93L350.10 299.72L350.30 299.84L350.40 299.56L350.60 300.08L351.00 300.67L351.20 300.53L351.40 300.57L351.50 300.50L351.70 299.98L351.80 300.06L351.90 299.84L352.00 299.91L352.10 299.83L352.20 300.15L352.40 300.13L352.50 299.94L352.60 300.14L352.90 299.93L353.00 299.96L353.10 299.78L353.20 299.81L353.30 299.49L353.40 299.80L353.50 299.89L353.60 299.80L353.70 300.09L353.80 300.13L353.90 300.12L354.10 299.63L354.20 299.86L354.40 299.86L354.60 300.12L354.70 299.98L355.10 301.04L355.50 300.29L355.60 300.57L355.70 300.56L355.80 300.36L355.90 300.47L356.10 300.07L356.40 300.74L356.60 300.54L356.90 299.88L357.00 300.26L357.10 300.24L357.20 300.18L357.30 299.79L357.50 299.95L357.80 300.59L357.90 300.46L358.20 300.59L358.30 300.39L358.70 300.15L358.80 299.97L358.90 300.00L359.00 299.88L359.20 300.00L359.30 299.82L359.40 299.90L359.50 299.72L359.70 299.84L359.90 299.66L360.20 300.23L360.30 300.09L360.40 300.11L360.50 300.35L360.70 300.02L360.80 300.18L360.90 300.12L361.00 299.82L361.20 299.69L361.30 299.93L361.40 299.74L361.60 300.25L361.70 300.25L361.80 299.91L361.90 300.15L362.00 300.13L362.10 300.42L362.20 300.31L362.30 300.36L362.50 300.26L362.70 300.55L362.80 300.38L363.00 300.35L363.40 300.47L363.50 300.25L363.80 300.82L363.90 300.53L364.00 300.63L364.30 300.33L364.40 300.65L364.70 300.38L364.80 300.51L364.90 300.23L365.10 300.53L365.40 300.65L365.60 300.58L365.70 300.72L365.80 300.62L366.10 300.77L366.30 300.33L366.40 300.55L366.60 300.44L366.70 300.66L366.90 300.74L367.20 300.62L367.30 300.33L367.40 300.44L367.60 300.45L367.90 299.49L368.50 298.86L368.80 299.78L369.10 300.16L369.30 300.02L369.50 300.31L369.80 299.87L370.10 300.50L370.20 300.53L370.60 300.26L370.80 300.40L371.10 300.04L371.20 300.10L371.40 299.94L371.60 300.26L371.80 300.02L372.30 300.54L372.40 300.34L372.60 300.40L372.80 300.07L372.90 300.08L373.10 299.59L373.20 299.56L373.70 300.15L373.90 300.18L374.20 300.65L374.30 300.35L374.50 300.59L374.80 300.31L375.00 300.51L375.10 300.34L375.30 300.28L375.40 300.07L375.80 300.73L375.90 300.56L376.10 300.87L376.20 300.87L376.40 300.32L376.50 300.36L376.60 299.96L377.10 299.32L377.20 299.61L377.40 299.44L377.50 299.58L377.70 299.47L377.90 299.94L378.10 299.65L378.40 299.90L378.50 299.88L378.60 300.09L378.80 299.47L379.00 299.59L379.10 299.55L379.20 299.78L379.30 299.64L379.50 299.67L379.70 299.53L380.00 299.69L380.40 299.15L380.70 299.92L380.80 299.80L380.90 299.95L381.00 299.84L381.10 300.18L381.30 300.15L381.50 299.51L381.60 299.34L381.70 299.42L381.80 299.12L381.90 299.12L382.00 298.76L382.10 298.73L382.40 299.11L382.50 299.08L382.80 298.69L382.90 298.68L383.00 298.23L384.00 291.83L384.80 283.48L385.40 278.76L385.80 277.55L385.90 277.52L386.00 277.91L386.10 277.69L386.30 278.42L386.50 278.73L386.80 278.46L387.00 277.80L387.90 267.35L388.30 264.88L388.40 264.77L388.60 265.47L388.80 267.60L390.10 288.93L390.70 294.66L391.20 297.12L391.30 297.01L391.40 297.23L391.70 297.35L391.90 297.87L392.20 298.21L392.30 298.13L392.60 298.86L392.80 298.87L392.90 299.20L393.00 299.11L393.20 299.33L393.50 299.19L393.60 299.27L393.90 298.93L394.30 299.43L394.50 299.11L394.60 299.36L394.70 299.24L395.00 299.61L395.20 299.32L395.30 299.58L395.40 299.64L395.50 299.54L395.70 299.70L395.80 300.03L396.00 300.22L396.20 300.11L396.30 300.25L396.50 300.14L396.60 300.24L396.80 299.66L396.90 299.95L397.00 299.82L397.10 299.88L397.20 299.60L397.70 300.62L397.80 300.30L398.10 300.86L398.30 300.65L398.60 299.73L398.70 299.59L398.90 299.69L399.00 299.50L399.10 299.82L399.20 299.51L399.30 299.66L399.40 299.55L399.60 300.09L399.80 299.79L400.00 299.81L400.30 300.52L400.60 300.17L400.70 300.31L401.00 300.41L401.20 300.03L401.50 300.61L401.60 300.43L401.70 300.49L401.80 300.28L401.90 300.49L402.10 300.58L402.30 300.22L402.60 300.21L402.70 300.37L402.80 300.10L403.10 300.21L403.20 300.17L403.40 299.74L403.80 299.76L403.90 299.54L404.40 300.50L404.50 300.29L404.60 300.27L404.70 300.26L404.80 300.43L405.00 300.11L405.10 300.35L405.40 300.12L405.60 300.49L405.80 300.44L406.00 300.02L406.10 300.21L406.20 299.87L406.30 299.94L406.60 299.66L406.80 299.99L406.90 300.40L407.00 300.27L407.10 300.43L407.20 300.32L407.30 300.51L407.40 300.34L407.50 300.52L407.80 300.09L408.10 300.51L408.20 300.15L408.30 300.29L408.40 300.14L408.60 300.35L409.00 299.90L409.10 300.15L409.30 300.23L409.60 300.07L409.70 300.32L409.80 300.24L409.90 300.27L410.20 299.98L410.30 300.06L410.40 300.01L410.50 300.15L410.60 300.08L410.90 300.56L411.00 300.14L411.30 300.13L411.50 299.46L411.60 299.30L411.70 299.39L411.80 299.24L411.90 299.74L412.40 300.15L412.50 300.15L412.80 299.80L413.00 299.91L413.10 299.71L413.40 300.22L413.60 300.27L413.80 300.52L414.00 300.24L414.10 300.37L414.20 300.36L414.40 300.04L414.50 300.37L414.60 299.82L414.70 299.84L414.80 299.67L414.90 299.93L415.00 299.93L415.40 299.59L415.70 300.40L415.90 299.74L416.40 299.86L416.60 299.33L416.80 299.56L417.00 299.56L417.10 299.75L417.30 299.30L417.40 299.54L417.50 299.51L417.70 299.74L418.00 299.41L418.20 299.78L418.60 300.14L418.80 300.60L419.00 300.40L419.10 300.56L419.40 300.30L419.50 300.34L419.60 300.03L419.90 300.41L420.10 299.98L420.50 300.19L420.60 299.96L420.70 300.16L420.80 300.05L421.00 300.53L421.10 300.44L421.30 300.46L421.50 300.92L421.60 300.67L421.70 301.00L421.90 300.54L422.50 300.56L422.60 300.34L422.80 301.07L422.90 301.06L423.00 301.40L423.30 301.24L423.40 301.03L423.50 301.27L423.70 300.67L424.00 300.30L424.20 299.87L424.30 299.89L424.50 299.68L424.60 299.71L424.70 300.04L424.90 299.99L425.50 300.93L425.70 300.39L425.90 300.32L426.00 300.53L426.40 299.99L426.60 300.12L426.80 300.07L426.90 299.85L427.10 300.03L427.30 299.83L427.50 299.96L427.60 299.91L427.80 300.23L427.90 299.90L428.00 299.91L428.20 300.60L428.30 300.59L428.40 300.72L428.60 300.69L428.70 300.50L428.90 300.70L429.10 300.09L429.30 300.19L429.60 299.85L429.70 299.92L429.80 299.70L430.00 299.80L430.20 299.55L430.30 299.77L430.70 300.07L431.00 299.76L431.10 299.86L431.30 299.69L431.40 299.73L431.60 299.42L431.80 299.75L431.90 299.71L432.10 299.41L432.20 299.56L432.70 299.03L432.80 299.12L432.90 298.98L433.20 299.48L433.30 299.47L433.40 299.65L433.50 299.46L433.60 299.67L433.70 299.61L433.80 299.87L434.20 298.92L434.40 298.81L434.80 298.15L434.90 297.81L435.10 297.90L435.30 297.57L435.40 297.05L435.80 296.22L436.00 295.45L436.30 293.90L437.60 282.51L437.80 281.53L438.00 281.19L438.10 281.18L438.20 281.65L438.40 281.90L439.30 289.71L439.90 293.26L440.60 296.67L441.10 298.31L441.40 298.83L441.50 298.60L441.60 298.70L441.70 298.63L442.00 299.02L442.10 298.97L442.30 299.53L442.50 299.72L442.60 299.99L442.70 299.91L442.80 300.09L442.90 299.76L443.00 300.02L443.20 299.60L443.40 299.58L443.50 299.42L443.60 299.52L443.70 299.29L443.80 299.56L444.00 299.55L444.30 300.01L444.60 300.14L445.00 299.60L445.10 299.69L445.20 299.43L445.40 299.35L445.70 299.94L445.80 299.83L445.90 300.10L446.00 299.91L446.10 300.19L446.20 300.02L446.50 300.06L446.60 299.91L446.70 300.18L446.80 300.11L446.90 300.28L447.00 300.10L447.30 300.32L447.50 300.08L447.80 299.30L448.00 299.14L448.10 299.36L448.20 299.24L448.30 299.33L448.60 299.84L448.70 299.93L448.80 299.88L448.90 300.13L449.00 300.02L449.10 300.46L449.20 300.56L449.30 300.34L449.40 300.57L449.50 300.32L450.10 299.86L450.20 299.94L450.30 299.87L450.40 300.16L450.50 300.10L450.60 300.31L450.80 299.97L450.90 299.52L451.20 299.29L451.80 300.22L451.90 300.03L452.10 300.04L452.40 299.46L452.70 299.12L452.80 299.25L453.10 299.02L453.20 299.08L453.30 299.40L453.50 299.32L453.60 299.44L453.80 299.30L453.90 299.40L454.20 298.45L454.40 298.33L454.60 297.97L454.80 297.36L454.90 297.54L455.40 296.68L455.50 296.75L455.70 297.35L455.80 297.22L455.90 297.43L456.00 297.41L456.30 298.27L456.50 298.06L457.10 299.35L457.20 299.32L457.30 299.50L457.50 299.37L457.60 299.63L457.90 299.56L458.00 299.43L458.30 299.90L458.50 300.00L458.60 299.91L458.90 300.26L459.20 300.12L459.30 300.22L459.40 300.01L459.70 300.34L460.00 299.97L460.20 300.18L460.70 299.11L460.90 299.42L461.10 299.03L461.30 299.03L461.60 299.58L461.70 299.54L461.80 299.25L462.00 299.34L462.30 299.20L462.40 299.31L462.50 298.86L462.80 299.27L462.90 299.66L463.00 299.60L463.20 299.70L463.30 299.46L463.40 299.87L463.60 299.52L463.70 299.65L463.80 299.38L464.00 299.42L464.10 299.15L464.20 299.66L464.30 299.40L464.50 299.52L464.70 299.44L465.00 299.81L465.10 299.61L465.30 300.17L465.50 299.74L466.00 299.76L466.20 298.95L466.40 298.98L466.50 298.87L466.60 298.95L466.70 298.75L466.80 298.74L466.90 298.46L467.00 298.66L467.30 298.87L467.90 297.36L468.70 293.64L469.60 286.75L470.60 281.33L471.50 273.23L472.30 263.95L472.60 261.77L472.80 261.12L473.00 261.56L473.20 262.45L473.40 264.06L474.80 285.74L475.20 290.25L475.70 294.05L476.50 297.28L476.60 297.06L476.70 297.44L476.90 297.53L477.00 297.72L477.20 297.68L477.50 298.49L477.70 298.64L477.90 299.37L478.10 299.45L478.30 299.35L478.40 299.08L478.50 299.21L478.60 299.12L478.70 299.27L478.90 299.19L479.30 299.84L479.40 299.66L479.50 299.79L479.70 299.69L479.80 299.74L480.10 299.06L480.30 299.17L480.40 299.49L480.50 299.17L480.90 300.03L481.10 299.72L481.20 299.83L481.30 299.52L481.40 299.80L481.50 299.47L481.60 299.51L481.70 299.28L481.80 299.30L481.90 299.64L482.10 299.47L482.20 299.64L482.30 299.51L482.40 299.56L482.50 299.41L482.60 299.45L482.80 299.32L483.00 299.91L483.20 299.59L483.40 300.03L483.60 299.96L483.70 299.63L483.90 299.53L484.10 299.83L484.40 299.84L484.60 300.08L485.00 299.59L485.10 299.61L485.20 299.36L485.30 299.46L485.40 299.17L485.50 299.33L485.60 299.04L485.70 299.04L485.90 299.62L486.20 299.52L486.30 299.84L486.40 299.85L486.60 300.28L486.70 300.35L486.80 300.00L486.90 299.99L487.00 300.17L487.20 299.94L487.60 299.92L487.80 300.06L487.90 300.01L488.10 300.70L488.30 300.44L488.80 300.25L489.00 299.70L489.40 299.85L489.70 299.71L489.80 300.01L489.90 299.81L490.10 300.09L490.30 299.87L490.40 300.17L490.50 300.17L490.60 300.42L490.80 300.59L491.00 300.24L491.20 300.40L491.30 299.94L491.40 300.02L491.60 299.82L491.70 299.52L491.80 299.74L491.90 299.69L492.00 299.86L492.10 299.75L492.20 300.16L492.40 300.07L492.50 299.87L492.60 300.04L492.70 300.00L492.80 300.13L492.90 299.88L493.00 299.91L493.20 299.67L493.30 299.70L493.60 300.12L493.70 300.00L493.90 300.50L494.10 300.50L494.20 300.67L494.40 300.53L494.60 300.59L494.80 300.23L494.90 300.21L495.10 300.38L495.40 300.17L495.60 300.46L495.70 300.44L495.80 300.37L495.90 300.02L496.00 299.97L496.10 300.18L496.20 300.17L496.50 299.74L496.80 299.75L497.00 299.20L497.10 299.22L497.20 299.58L497.30 299.37L497.50 299.55L497.60 299.51L497.70 299.79L497.80 299.71L497.90 300.07L498.10 299.75L498.30 299.67L498.50 299.79L498.60 299.47L498.70 299.76L498.90 299.86L499.20 300.25L499.40 300.19L499.70 300.62L499.90 300.10L500.00 300.20L500.20 299.90L500.40 299.95L500.60 299.48L500.70 299.51L500.80 299.74L500.90 299.67L501.10 299.88L501.20 299.77L501.30 299.86L501.40 299.72L501.60 300.22L501.90 300.56L502.00 300.40L502.10 300.74L502.20 300.42L502.30 300.63L502.50 300.35L502.60 300.48L502.80 300.35L502.90 300.54L503.00 300.24L503.20 300.60L503.50 300.45L503.70 300.59L503.80 300.43L503.90 300.54L504.10 299.96L504.30 300.31L504.40 300.36L504.50 300.15L504.90 300.65L505.00 300.71L505.10 300.58L505.30 300.66L505.40 300.83L505.80 300.29L505.90 300.42L506.10 300.23L506.40 299.63L506.70 299.96L507.00 299.87L507.50 300.28L507.70 300.20L507.80 300.34L508.20 300.43L508.30 300.61L508.70 300.54L508.90 300.08L509.10 300.01L509.40 299.71L509.50 299.85L509.60 299.58L509.80 299.89L509.90 299.45L510.00 299.64L510.20 299.06L510.30 299.20L510.40 298.86L510.50 298.97L510.70 298.72L510.80 298.77L510.90 298.47L511.10 298.64L511.20 298.34L511.30 298.50L511.70 298.12L511.80 298.36L511.90 298.18L512.10 298.32L512.40 297.84L512.60 298.08L512.70 297.87L512.80 297.93L513.10 297.60L513.30 298.09L513.70 298.19L514.00 298.68L514.30 298.71L514.60 299.33L514.80 299.21L514.90 299.46L515.20 299.24L515.40 299.53L515.80 299.62L515.90 299.92L516.00 299.91L516.10 300.06L516.50 299.19L516.60 299.34L516.80 298.99L516.90 299.19L517.20 299.29L517.30 299.50L517.60 298.78L517.70 298.85L517.90 298.19L518.10 298.38L518.20 297.92L518.50 298.58L518.60 298.23L518.80 298.41L519.00 297.97L519.10 298.15L519.40 298.12L519.60 297.76L519.80 297.03L519.90 297.18L520.00 296.86L520.70 293.50L521.20 288.36L522.70 265.94L523.00 263.09L523.20 262.41L523.40 262.76L523.70 265.71L525.20 288.29L525.70 293.50L526.20 296.42L526.30 296.42L526.90 298.18L527.10 298.14L527.50 298.90L527.60 298.98L527.70 298.87L527.80 298.96L527.90 299.38L528.20 299.76L528.40 299.36L528.70 299.54L529.70 297.65L529.90 297.72L530.10 298.25L530.20 298.15L530.30 298.18L530.50 298.63L530.70 298.66L530.80 298.82L531.00 298.54L531.10 298.80L531.40 297.79L531.50 297.61L531.60 297.73L531.80 297.07L532.20 296.37L532.30 296.39L532.40 296.24L532.50 295.73L532.80 296.26L533.30 296.35L533.50 296.62L533.80 296.55L534.10 297.61L534.20 298.36L534.70 299.31L534.90 299.24L535.00 299.41L535.20 298.98L535.30 299.09L535.60 299.15L535.80 299.41L535.90 299.34L536.10 299.88L536.30 299.83L536.60 300.05L536.80 300.04L536.90 299.72L537.10 299.70L537.30 299.48L537.40 299.81L537.60 299.81L537.90 300.25L538.00 300.16L538.20 300.48L538.40 300.09L538.50 300.41L538.60 300.27L538.70 300.41L538.80 300.28L539.00 300.26L539.10 299.99L539.20 299.94L539.30 300.06L539.40 299.64L539.60 299.44L540.00 300.05L540.20 299.85L540.30 300.07L540.50 300.18L540.90 299.67L541.00 299.91L541.30 299.95L541.50 300.17L541.70 300.04L541.80 300.18L542.00 299.99L542.20 300.18L542.40 299.91L542.70 300.15L542.80 300.09L542.90 300.22L543.10 300.22L543.20 300.41L543.50 299.92L543.80 300.24L544.00 300.09L544.10 299.85L544.20 300.33L544.40 300.47L544.60 300.33L544.90 299.72L545.00 299.97L545.10 299.78L545.30 300.01L545.40 299.85L545.50 299.91L545.80 300.45L545.90 300.10L546.00 300.20L546.20 300.05L546.30 300.25L546.50 300.17L546.60 299.99L546.80 300.28L547.00 300.36L547.20 300.17L547.50 300.87L547.60 300.75L547.70 300.93L547.80 300.62L547.90 300.59L548.00 300.79L548.30 300.41L548.40 300.52L548.60 300.47L548.70 300.65L548.80 300.60L549.10 300.10L549.40 299.93L549.50 299.56L549.90 299.72L550.00 300.17L550.30 299.87L550.40 300.13L550.60 300.10L550.70 300.49L550.90 300.29L551.20 300.35L551.40 300.66L551.60 300.70L551.80 300.59L551.90 300.39L552.10 300.64L552.50 299.57L552.60 299.52L553.00 299.87L553.30 300.37L553.90 300.85L554.40 300.32L554.70 299.57L555.00 299.44L555.30 299.78L555.40 299.61L555.60 299.85L555.80 299.35L555.90 299.37L556.10 299.03L556.30 299.18L556.60 299.19L556.70 299.30L556.90 299.22L557.00 299.30L557.40 298.54L557.60 298.57L557.80 298.33L557.90 297.99L558.20 298.01L558.40 297.82L558.70 297.09L558.80 297.14L558.90 296.95L559.00 296.96L559.20 296.60L559.40 295.83L559.60 295.84L559.90 294.94L560.00 295.00L560.20 294.71L560.40 294.65L560.50 294.37L560.60 294.61L560.70 294.55L560.90 294.15L561.00 294.20L561.30 294.88L561.60 295.21L561.90 296.32L562.00 296.30L562.10 296.43L562.20 296.14L562.30 296.77L562.40 296.76L562.60 296.98L562.70 297.33L562.80 297.20L562.90 297.55L563.00 297.55L563.10 298.17L563.20 298.09L563.40 298.75L563.50 298.80L563.60 298.65L563.90 299.30L564.30 299.18L564.60 299.36L565.00 298.99L565.20 299.17L565.40 299.00L565.70 299.13L565.90 298.95L566.10 299.05L566.20 299.02L566.40 298.61L566.60 298.52L566.70 298.57L566.80 298.89L567.00 298.57L567.20 298.98L567.60 297.61L567.80 297.54L568.10 296.67L568.30 296.64L568.50 296.39L569.20 293.02L570.00 285.75L571.70 264.46L571.90 263.60L572.00 263.68L572.10 263.58L572.20 263.69L572.30 264.30L572.70 268.51L574.20 287.85L575.00 294.31L575.80 296.89L575.90 296.84L576.20 297.24L576.40 297.96L576.50 297.83L576.60 298.02L576.80 297.97L577.00 298.54L577.20 298.68L577.40 298.55L577.50 298.79L577.60 298.70L577.80 298.96L577.90 298.72L578.00 298.83L578.10 298.61L578.20 298.71L578.40 298.55L578.50 298.69L578.70 298.11L578.80 298.12L578.90 297.94L579.00 298.03L579.10 297.84L579.20 298.02L579.40 297.61L579.60 298.25L579.70 298.33L579.80 298.26L580.00 298.49L580.30 298.63L580.50 297.92L580.80 297.73L581.40 295.75L582.20 291.33L582.40 289.74L583.70 276.59L583.80 275.93L584.20 274.85L585.00 279.68L586.50 293.27L587.50 297.33L588.20 298.15L588.50 298.21L588.80 298.44L588.90 298.83L589.20 299.08L589.30 299.44L589.50 299.60L589.60 299.92L590.00 299.55L590.20 299.62L590.30 299.46L590.40 299.55L590.50 299.32L590.70 299.61L590.80 299.60L590.90 299.32L591.00 299.44L591.10 299.38L591.20 299.55L591.30 299.43L591.50 299.51L591.70 299.18L591.80 299.39L592.00 299.17L592.10 299.20L592.30 299.66L592.40 299.48L592.70 299.91L592.80 299.73L592.90 299.85L593.10 299.45L593.40 299.64L593.60 299.48L593.70 299.75L593.80 299.74L593.90 299.94L594.00 299.89L594.10 299.58L594.20 299.62L594.30 299.43L594.50 299.70L594.80 299.32L594.90 299.49L595.00 299.47L595.20 299.64L595.50 300.33L595.60 300.19L595.80 300.40L596.10 300.30L596.40 299.76L596.50 300.28L596.70 300.01L596.80 300.19L597.10 299.81L597.20 299.91L597.50 299.43L597.80 299.78L597.90 299.79L598.10 299.51L598.30 299.41L598.40 299.90L598.70 299.32L599.00 299.70L599.10 300.08L599.30 299.66L599.60 300.44L599.70 300.47L599.80 300.37L599.90 300.46L600.40 299.47L600.50 299.48L600.70 299.79L600.80 299.71L601.00 300.16L601.20 300.29L601.60 299.58L601.70 299.80L601.90 299.51L602.00 299.55L602.10 299.24L602.30 299.60L602.50 299.48L602.60 298.94L602.90 298.73L603.00 298.85L603.30 298.04L603.40 298.03L603.50 298.22L603.70 298.00L603.80 297.62L604.00 297.33L604.20 297.61L604.30 297.62L604.50 297.22L604.60 297.19L604.70 297.34L604.90 297.02L605.10 297.08L605.40 296.63L605.50 296.24L605.70 296.40L606.00 295.44L606.20 295.58L606.30 295.55L606.40 295.86L606.60 295.32L606.80 295.70L607.00 295.82L607.10 295.75L607.50 296.27L607.60 296.60L607.80 296.51L607.90 296.75L608.20 296.61L608.40 297.18L608.50 297.11L608.70 297.74L608.80 297.69L609.00 298.73L609.30 298.81L609.40 299.06L609.60 299.12L609.70 299.51L609.80 299.48L609.90 299.22L610.10 299.28L610.30 299.57L610.40 299.51L610.50 299.76L610.60 299.68L610.80 300.06L611.10 300.16L611.20 299.95L611.30 300.16L611.60 300.08L611.70 300.14L611.90 300.67L612.00 300.52L612.10 300.64L612.20 300.45L612.60 300.17L612.80 299.76L612.90 299.89L613.20 299.90L613.30 300.19L613.50 300.07L613.60 300.14L613.70 300.40L613.90 300.07L614.00 300.12L614.20 299.98L614.40 300.06L614.60 299.53L614.80 299.90L614.90 299.90L615.20 299.28L615.50 299.77L615.80 299.49L616.10 300.15L616.30 300.05L616.40 300.25L616.50 300.06L616.80 300.51L617.00 300.11L617.20 300.16L617.30 299.89L617.40 299.95L617.50 299.69L617.60 299.72L617.70 299.43L617.80 299.42L618.00 299.10L618.10 299.15L618.30 299.00L618.40 299.11L618.50 298.94L618.80 298.91L619.50 297.85L619.60 297.90L619.70 297.83L620.20 296.89L620.40 296.68L620.60 295.73L620.90 295.62L621.20 294.53L621.40 294.18L621.50 294.19L621.80 293.05L622.00 293.33L622.50 292.68L622.70 293.37L622.80 293.23L623.00 293.79L623.40 295.55L623.50 295.37L623.80 295.75L623.90 296.15L624.10 296.31L624.30 296.76L624.50 297.45L625.00 298.16L625.10 298.06L625.30 298.72L625.50 299.02L625.70 299.16L625.90 299.00L626.10 299.49L626.40 299.08L626.50 299.29L626.60 298.99L626.90 299.15L627.10 298.54L627.30 298.81L627.40 298.79L627.70 299.79L628.20 300.61L628.60 300.30L629.00 299.44L629.20 299.34L629.30 299.39L629.40 299.25L629.60 299.56L629.80 300.26L630.00 300.42L630.10 300.39L630.30 300.20L630.80 299.01L630.90 299.01L631.10 299.37L631.30 299.42L631.50 299.66L631.60 299.60L631.70 299.81L631.80 299.65L631.90 299.89L632.00 299.96L632.10 299.89L632.20 300.07L632.40 300.09L632.50 300.31L632.80 299.78L633.40 299.11L633.50 299.34L633.60 299.23L633.70 299.30L633.80 299.06L634.00 299.10L634.10 299.00L634.20 299.14L634.50 298.53L634.70 298.77L634.90 298.56L635.00 298.60L635.20 298.16L635.40 298.02L635.60 297.29L635.90 297.08L636.10 297.33L636.20 297.28L636.50 297.88L636.60 297.87L636.80 298.17L636.90 298.15L637.10 298.71L637.20 298.43L637.40 298.47L637.60 298.83L637.90 298.74L638.10 299.00L638.30 298.90L638.40 298.94L638.50 298.74L638.60 298.74L638.80 299.07L638.90 298.98L639.00 299.34L639.50 299.84L640.10 299.66L640.20 299.83L640.40 299.75L640.70 300.49L640.80 300.36L640.90 300.62L641.00 300.61L641.10 300.29L641.20 300.60L641.30 300.62L641.40 300.21L641.50 300.24L641.60 300.02L641.90 300.32L642.00 300.61L642.20 300.21L642.30 300.42L642.50 300.48L642.90 299.97L643.10 300.29L643.20 300.24L643.30 300.36L643.50 300.28L643.60 300.39L643.70 300.21L643.80 300.38L643.90 300.27L644.10 300.32L644.20 300.03L644.40 299.86L644.50 299.48L644.70 299.77L644.90 299.50L645.30 299.73L645.40 300.01L645.60 299.63L645.80 299.90L646.00 299.71L646.20 300.03L646.30 300.04L646.40 300.43L646.60 300.22L646.80 299.68L646.90 299.84L647.00 299.48L647.40 298.93L647.70 299.24L647.80 298.95L648.00 299.17L648.30 298.72L648.50 298.67L648.70 299.02L649.00 298.86L649.10 298.70L649.20 298.93L649.30 298.54L649.40 298.61L649.60 298.09L649.70 298.05L649.80 297.55L650.10 296.87L650.20 296.96L650.90 294.79L651.10 293.40L652.40 287.08L652.80 286.00L653.00 286.06L653.30 286.75L653.50 286.74L653.70 287.52L654.20 288.59L654.40 289.75L654.60 290.00L654.70 290.51L654.90 290.91L655.00 291.61L656.00 295.09L656.60 296.07L656.70 296.49L656.80 296.33L657.10 297.07L657.50 297.36L657.60 297.33L657.80 297.63L657.90 297.52L658.10 298.24L658.80 299.73L659.30 299.69L659.50 299.16L659.60 299.24L659.90 298.94L660.00 299.10L660.10 299.02L660.40 299.92L660.50 299.72L660.60 299.85L660.90 299.60L661.00 299.91L661.20 299.62L661.60 300.29L661.70 300.32L661.80 300.27L661.90 299.95L662.10 300.06L662.30 300.05L662.40 299.89L662.60 299.82L663.10 300.36L663.20 300.23L663.50 300.38L663.90 299.74L664.00 299.38L664.10 299.58L664.30 299.39L664.90 300.54L665.00 300.27L665.30 300.47L665.50 300.49L665.70 300.24L666.10 300.57L666.20 300.38L666.30 300.42L666.40 300.63L666.60 300.12L666.90 300.25L667.30 299.28L667.50 299.86L667.60 299.78L667.70 300.03L667.80 299.92L668.20 300.65L668.30 300.42L668.50 300.49L668.60 300.17L668.80 299.95L668.90 300.07L669.20 300.10L669.30 300.29L669.40 300.12L669.50 300.16L669.90 300.65L670.10 300.61L670.20 300.28"/>
<path d="M51.00 609.73L51.10 609.78L51.40 610.63L51.50 610.36L51.60 610.76L51.80 610.13L51.90 610.40L52.10 610.39L52.30 610.09L52.40 610.17L52.50 609.83L52.60 610.57L53.00 609.52L53.20 609.19L53.30 609.24L53.40 609.08L53.50 608.25L53.60 608.59L53.80 607.77L53.90 607.96L54.50 604.32L54.70 603.83L54.80 602.88L55.00 602.71L55.10 602.98L55.20 602.83L55.80 605.20L55.90 606.17L56.70 610.27L56.80 609.77L57.20 611.00L57.30 610.99L57.50 610.49L57.60 610.59L57.80 611.34L57.90 611.42L58.10 610.87L58.40 611.61L58.60 611.32L58.80 610.44L58.90 610.71L59.10 610.82L59.30 610.60L59.40 610.97L59.50 610.71L59.60 611.51L59.70 611.50L59.90 611.73L60.00 611.51L60.20 611.65L60.30 611.46L60.40 612.03L60.50 611.59L60.80 611.90L60.90 612.19L61.10 611.81L61.20 611.92L61.30 611.76L61.50 611.81L61.60 611.96L61.80 611.84L62.00 612.39L62.20 611.69L62.40 611.79L62.60 611.01L62.80 610.82L63.10 611.79L63.30 611.74L63.40 611.60L63.60 612.38L63.70 612.31L63.80 611.90L63.90 612.10L64.10 612.20L64.20 612.54L64.40 612.43L64.50 612.13L64.70 612.49L64.80 612.48L65.00 612.91L65.10 612.52L65.20 612.98L65.40 613.01L65.60 613.39L65.80 612.44L65.90 612.68L66.10 612.79L66.20 612.73L66.30 612.90L66.50 612.23L66.60 612.48L66.80 612.14L66.90 612.49L67.00 612.31L67.20 612.27L67.60 612.96L67.70 612.93L67.80 612.51L67.90 612.74L68.30 612.32L68.60 613.17L68.90 612.74L69.20 613.02L69.50 612.35L69.70 612.68L69.90 612.53L70.00 612.12L70.10 612.47L70.30 611.44L70.50 611.98L70.60 611.60L70.70 611.94L70.80 611.61L70.90 611.78L71.00 611.48L71.20 612.19L71.30 611.89L71.40 611.93L71.60 612.73L71.80 612.86L72.00 612.50L72.10 612.63L72.20 613.29L72.50 612.53L72.60 612.92L72.70 612.59L72.90 613.15L73.10 612.71L73.20 613.09L73.30 612.95L73.40 613.20L73.50 613.01L73.70 613.22L73.90 613.06L74.30 611.57L74.50 611.65L74.60 611.57L74.70 611.89L74.80 611.89L74.90 612.46L75.00 612.17L75.30 613.41L75.40 613.18L75.50 613.44L75.60 613.05L75.70 613.32L75.80 613.15L76.00 614.23L76.10 614.12L76.20 613.55L76.30 613.73L76.50 612.71L76.60 612.88L76.90 611.26L77.00 611.04L77.20 610.92L77.40 611.79L77.50 611.72L77.60 612.07L77.90 612.50L78.10 612.49L78.20 612.66L78.40 611.96L78.50 611.93L78.60 612.05L78.70 611.83L79.30 613.11L79.50 612.41L79.60 612.59L79.70 612.31L79.90 612.65L80.20 612.23L80.30 612.91L80.40 612.85L80.50 613.16L80.80 612.87L81.00 612.46L81.10 612.59L81.20 612.45L81.30 612.77L81.50 612.48L81.60 612.00L81.90 611.97L82.20 611.75L82.40 612.01L82.70 613.02L82.90 613.32L83.00 612.90L83.10 612.88L83.20 613.07L83.30 612.56L83.50 612.28L83.60 612.42L83.80 612.25L83.90 612.68L84.00 612.48L84.10 612.56L84.20 613.11L84.70 612.46L84.90 612.92L85.00 612.62L85.20 612.69L85.30 613.09L85.40 613.17L85.70 612.89L85.80 612.98L86.00 612.55L86.10 612.67L86.30 612.21L86.50 613.29L86.70 613.05L87.00 613.09L87.20 613.52L87.40 613.02L87.60 613.08L87.70 613.30L88.10 612.97L88.30 613.13L88.40 613.39L88.50 613.26L88.70 613.30L88.80 613.53L89.00 613.54L89.10 613.86L89.20 613.56L89.40 613.57L89.50 613.15L89.70 613.04L89.80 612.43L90.00 612.16L90.10 612.32L90.20 612.29L90.40 612.80L90.60 612.89L90.80 613.35L90.90 613.05L91.00 613.10L91.10 612.92L91.30 612.41L91.40 612.44L91.60 612.25L91.70 611.67L91.80 611.87L91.90 611.31L92.20 611.90L92.30 612.53L92.50 612.56L92.60 613.22L92.80 613.47L92.90 613.34L93.00 613.38L93.10 613.77L93.30 612.96L93.40 613.06L93.60 612.75L93.90 613.00L94.00 612.63L94.20 612.40L94.30 612.47L94.40 612.00L94.70 611.59L94.90 610.90L95.00 610.83L95.30 611.65L95.50 611.75L95.70 611.71L95.90 612.63L96.00 612.74L96.20 612.37L96.30 612.40L96.40 612.28L96.60 612.91L96.70 612.49L96.90 612.15L97.10 612.18L97.20 612.47L97.30 612.40L97.60 611.30L97.70 611.23L97.80 611.32L98.00 612.27L98.10 611.84L98.30 611.73L98.50 612.22L98.60 612.20L98.70 612.11L98.90 611.38L99.00 611.69L99.30 611.40L99.40 611.47L99.60 611.39L99.90 610.06L100.20 610.09L100.30 609.51L100.40 609.42L100.50 609.56L100.60 609.38L100.80 609.71L101.00 608.60L101.20 608.22L101.30 607.67L101.60 604.46L101.90 600.02L102.20 591.40L102.60 571.69L103.40 511.90L103.50 506.97L103.70 502.80L103.80 503.30L104.00 510.97L105.10 587.54L105.30 595.03L105.70 603.78L105.90 606.02L106.40 609.10L106.70 609.41L106.80 609.96L107.00 610.27L107.30 609.63L107.50 610.18L107.60 610.04L107.70 609.36L107.80 609.68L107.90 609.63L108.10 610.51L108.20 610.56L108.40 610.09L108.50 610.07L108.70 610.55L108.80 610.55L109.00 610.03L109.10 610.34L109.20 610.21L109.50 610.89L109.60 610.56L109.80 610.71L109.90 611.05L110.00 611.06L110.10 611.59L110.50 612.22L110.70 613.13L111.20 611.63L111.70 608.95L111.80 608.82L112.30 605.03L113.30 585.58L113.60 582.99L113.90 586.15L114.60 601.07L115.10 607.79L115.40 609.90L115.60 610.66L115.70 610.65L115.80 611.00L115.90 611.06L116.10 610.61L116.30 610.79L116.40 610.43L116.50 610.72L116.60 610.75L116.70 610.54L117.00 611.81L117.10 612.13L117.20 612.00L117.30 612.46L117.40 612.14L117.50 612.48L117.60 612.54L117.80 611.85L117.90 611.84L118.00 611.60L118.10 611.86L118.20 611.56L118.30 611.73L118.50 611.61L118.60 611.80L118.70 611.62L118.80 611.84L118.90 611.69L119.00 611.75L119.10 612.05L119.30 612.20L119.40 612.57L119.50 612.54L119.60 612.86L119.70 612.56L119.80 612.95L119.90 612.84L120.10 613.30L120.30 612.79L120.60 613.27L120.80 613.32L121.00 612.69L121.10 612.68L121.20 613.02L121.70 611.95L121.90 612.40L122.00 612.37L122.10 611.98L122.20 612.15L122.50 612.09L122.60 612.40L122.70 612.21L122.90 612.22L123.00 612.32L123.10 612.26L123.30 612.43L123.40 612.80L123.80 611.78L124.00 611.94L124.30 611.36L124.40 611.60L124.50 611.54L124.70 612.31L125.00 612.90L125.10 612.89L125.30 612.47L125.50 612.88L125.60 612.64L125.70 612.75L125.80 612.29L126.00 612.05L126.10 612.34L126.20 612.43L126.30 612.36L126.40 611.85L126.50 612.23L126.60 612.19L126.80 611.73L126.90 612.23L127.00 612.10L127.10 612.28L127.20 612.02L127.30 612.78L127.40 612.18L127.70 612.93L128.00 611.90L128.10 612.15L128.20 611.90L128.30 612.09L128.80 611.26L128.90 611.65L129.10 610.96L129.20 610.96L129.40 610.01L129.50 609.90L129.80 608.13L131.00 590.67L131.20 588.24L131.30 588.05L131.40 588.17L131.60 589.95L132.30 602.60L132.70 607.16L133.10 610.07L133.30 610.94L133.40 610.70L133.60 611.13L133.90 612.68L134.10 612.18L134.30 612.83L134.40 612.82L134.60 612.29L134.80 612.05L135.00 612.79L135.30 612.13L135.60 612.51L135.70 612.24L135.90 612.10L136.20 613.13L136.50 612.98L136.60 613.15L136.90 612.50L137.00 611.99L137.10 612.29L137.20 612.32L137.40 611.80L137.70 611.98L137.90 613.46L138.00 612.81L138.10 612.81L138.20 613.06L138.30 612.87L138.60 612.94L138.80 611.38L138.90 611.92L139.10 612.09L139.20 612.45L139.30 612.32L139.40 612.50L139.50 612.45L139.70 613.11L139.90 612.79L140.00 612.91L140.10 612.76L140.20 613.02L140.30 612.74L140.60 613.40L140.70 613.13L140.80 613.39L140.90 613.12L141.30 613.15L141.50 612.30L141.70 612.32L141.90 611.87L142.00 611.83L142.10 612.12L142.20 611.74L142.50 612.25L142.70 612.01L142.80 612.63L143.00 612.51L143.10 612.80L143.20 612.54L143.30 612.93L143.50 612.56L143.80 613.44L144.00 612.60L144.10 612.82L144.20 612.43L144.30 612.34L144.40 612.41L144.70 611.73L145.00 612.35L145.10 612.38L145.20 612.77L145.30 612.65L145.50 613.02L145.70 612.97L145.80 613.22L145.90 612.91L146.00 613.20L146.20 612.94L146.30 613.35L146.50 612.57L146.60 613.06L146.70 612.82L146.80 613.32L147.10 613.42L147.20 612.78L147.40 612.75L147.50 612.53L147.60 612.70L147.70 612.35L147.90 612.52L148.10 613.16L148.20 613.05L148.30 613.28L148.50 613.31L149.00 611.94L149.20 612.72L149.30 612.76L149.40 612.62L149.70 612.54L149.90 613.10L150.10 612.63L150.20 612.70L150.30 612.38L150.50 612.60L150.60 612.93L150.90 612.22L151.00 612.24L151.30 612.74L151.40 613.10L151.50 612.85L151.60 613.32L151.70 612.97L151.90 612.83L152.00 612.48L152.20 612.50L152.30 612.32L152.40 612.68L152.50 612.69L152.80 613.34L152.90 613.31L153.00 613.42L153.30 612.26L153.50 612.17L153.60 611.99L153.80 612.18L154.00 611.74L154.20 612.67L154.40 612.30L154.70 612.72L154.80 612.70L154.90 612.94L155.10 612.55L155.20 612.49L155.30 612.69L155.40 612.32L155.50 612.56L155.60 612.15L155.80 612.48L156.20 612.76L156.30 613.26L156.40 613.12L156.60 613.59L156.70 613.44L156.80 613.49L156.90 613.27L157.00 613.62L157.10 613.55L157.30 612.86L157.40 612.94L157.50 612.41L157.70 612.66L157.80 612.98L157.90 612.77L158.40 614.43L158.50 614.13L158.60 614.23L158.80 613.76L158.90 613.20L159.00 613.40L159.20 613.20L159.30 612.80L159.40 613.15L159.60 612.89L159.70 613.29L160.00 612.63L160.20 612.61L160.30 612.72L160.40 612.54L160.50 612.76L160.60 612.53L160.70 612.50L160.80 612.61L161.00 612.33L161.10 612.58L161.20 612.02L161.30 612.24L161.50 612.33L161.90 613.12L162.00 612.99L162.10 613.11L162.30 612.81L162.40 612.99L162.70 612.31L162.90 613.12L163.30 612.50L163.50 612.82L163.60 612.84L163.80 612.17L164.10 613.49L164.40 613.39L164.50 613.90L164.70 613.58L164.80 612.92L164.90 612.98L165.10 612.74L165.30 612.72L165.40 612.26L165.70 612.68L165.90 612.63L166.00 612.73L166.30 612.48L166.40 612.66L166.50 612.30L166.60 612.38L166.80 612.06L167.10 612.21L167.30 611.80L167.50 612.15L167.60 612.00L167.80 612.61L168.20 612.30L168.50 610.91L168.70 609.23L168.80 609.09L169.20 606.86L169.40 606.87L169.50 606.72L169.60 607.05L169.80 606.28L170.10 607.71L170.50 608.98L170.70 610.61L171.00 611.51L171.10 611.61L171.20 611.54L171.30 611.87L171.40 611.80L171.50 611.97L171.60 611.86L171.70 611.88L172.10 613.26L172.20 612.73L172.30 613.02L172.50 612.83L172.60 613.00L172.70 612.87L172.80 612.31L172.90 612.31L173.20 613.01L173.40 613.15L173.50 612.90L173.70 612.90L174.10 611.33L174.20 611.31L174.40 611.50L174.80 610.82L174.90 610.83L175.10 611.12L175.60 609.70L175.90 608.11L176.40 602.94L176.70 601.28L176.90 601.73L177.20 605.09L177.80 610.03L177.90 610.04L178.50 611.77L178.70 611.68L178.90 612.20L179.00 611.95L179.10 612.16L179.20 612.14L179.30 612.26L179.40 612.03L179.50 612.07L179.80 611.89L179.90 612.37L180.00 612.25L180.10 612.48L180.20 612.40L180.30 612.92L180.40 612.86L180.50 613.03L180.60 612.93L180.70 612.98L180.80 612.63L180.90 612.74L181.00 612.45L181.10 612.61L181.20 612.20L181.30 612.15L181.40 612.32L181.60 611.99L181.90 612.68L182.00 612.45L182.20 612.44L182.40 612.53L182.50 612.71L182.60 612.36L182.70 612.56L182.80 612.18L182.90 612.68L183.00 612.73L183.10 612.64L183.20 612.28L183.50 612.78L183.60 612.46L183.70 612.54L183.90 612.24L184.10 612.62L184.20 612.59L184.40 612.10L184.80 612.41L185.10 612.12L185.20 611.87L185.30 612.06L185.50 611.05L185.60 611.00L186.10 612.00L186.20 611.77L186.40 612.93L186.50 612.81L187.10 610.54L187.20 610.65L187.40 609.64L187.60 609.48L188.00 605.94L188.30 601.42L188.80 587.56L189.40 566.55L189.60 564.53L189.90 569.19L190.50 591.50L190.90 601.55L191.20 606.24L191.40 607.82L191.70 609.53L191.80 609.52L192.20 611.05L192.30 610.86L192.50 611.12L192.60 610.78L192.70 611.11L193.00 610.20L193.20 610.41L193.30 610.71L193.40 610.66L193.50 611.09L193.70 611.17L193.80 611.32L194.00 611.01L194.30 611.66L194.50 610.78L194.70 610.77L194.80 610.56L195.60 601.89L195.70 601.08L195.90 600.88L196.10 601.25L196.90 609.05L197.30 611.21L197.40 611.15L197.70 611.91L197.80 611.81L198.00 612.37L198.20 612.43L198.40 612.82L198.60 612.40L198.70 612.49L198.80 612.15L199.00 612.02L199.10 611.62L199.40 611.99L199.60 611.54L199.70 611.47L199.90 611.67L200.10 611.37L200.20 610.72L200.30 610.78L200.40 611.21L200.60 610.83L201.10 608.30L201.90 600.46L202.00 600.29L202.10 600.35L202.40 601.73L202.80 606.66L203.40 610.42L203.50 610.19L203.70 610.45L203.90 611.46L204.10 611.60L204.20 611.83L204.30 611.74L204.50 612.02L204.60 612.44L204.80 612.13L205.00 612.52L205.20 612.55L205.40 613.29L205.50 613.13L205.70 613.23L205.80 612.95L205.90 613.04L206.00 613.48L206.10 613.41L206.20 613.60L206.30 613.56L206.60 612.80L206.70 613.06L206.90 612.51L207.00 612.45L207.10 612.58L207.30 611.97L207.50 612.62L207.60 612.30L207.70 612.43L208.10 611.75L208.20 612.04L208.40 611.70L208.50 611.82L208.60 611.75L208.90 612.05L209.00 612.02L209.10 611.66L209.40 612.20L209.50 612.16L209.60 611.89L209.70 611.89L209.80 612.06L209.90 612.06L210.00 612.31L210.10 612.19L210.20 612.29L210.50 613.31L210.60 613.53L210.70 613.44L211.00 614.28L211.20 613.03L211.30 612.97L211.40 612.59L211.60 612.57L211.90 611.52L212.20 612.20L212.30 612.24L212.40 611.98L212.50 612.05L212.60 612.57L212.90 613.17L213.00 613.14L213.20 612.69L213.30 612.91L213.80 611.80L213.90 612.27L214.10 612.02L214.20 611.67L214.40 611.97L214.50 611.63L214.60 611.58L214.70 611.80L214.90 611.24L215.00 611.53L215.10 611.51L215.30 610.83L215.60 611.33L215.70 611.23L215.80 611.27L215.90 610.96L216.10 611.64L216.20 611.64L216.30 611.90L216.40 611.69L216.60 611.65L216.70 611.33L216.90 612.31L217.10 612.57L217.40 612.30L217.60 613.17L217.70 613.09L218.20 611.49L218.30 611.45L218.50 610.69L219.00 607.49L219.20 605.02L219.80 592.03L220.60 562.27L220.80 558.14L220.90 557.73L221.00 558.27L221.20 562.25L222.00 591.76L222.40 601.56L223.10 608.07L223.70 610.29L223.80 610.47L224.00 610.03L224.10 610.12L224.60 607.87L224.90 604.82L225.50 596.27L225.60 595.40L225.90 594.62L226.10 596.09L227.00 608.75L227.30 609.53L227.70 611.26L227.80 611.00L228.10 611.91L228.30 611.97L228.60 611.38L228.70 611.51L229.00 610.71L229.30 610.36L229.50 610.55L229.70 610.11L229.80 610.15L230.20 609.11L230.40 607.88L230.80 606.59L230.90 606.81L231.10 606.81L231.40 607.79L231.50 608.67L232.20 610.95L232.30 610.88L232.40 610.29L232.60 610.49L232.80 610.47L232.90 610.62L233.00 610.58L233.10 610.08L233.50 611.62L233.60 611.24L233.80 611.58L234.00 611.62L234.10 611.36L234.20 611.47L234.40 611.16L234.50 611.18L234.80 609.86L234.90 610.37L235.00 610.04L235.40 607.97L235.50 607.91L236.10 603.12L236.30 603.53L236.40 603.47L237.10 607.86L237.70 609.82L237.80 610.46L238.00 610.77L238.10 610.73L238.40 611.53L238.50 611.28L238.80 611.03L238.90 610.67L239.00 610.73L239.20 610.48L239.30 609.95L239.60 609.29L240.10 606.33L240.30 604.13L240.80 592.70L241.60 560.84L241.70 558.03L241.90 555.78L242.20 560.39L242.90 587.34L243.20 596.01L243.50 601.43L243.90 605.38L244.10 606.21L244.40 606.79L244.70 606.39L245.10 604.84L245.40 602.15L245.70 597.64L246.10 584.66L247.10 519.28L247.20 514.89L247.40 511.06L247.50 511.99L247.70 519.46L248.40 568.92L248.90 593.28L249.40 604.63L249.60 606.66L250.00 608.69L250.30 609.74L250.50 609.61L250.70 609.62L251.00 608.84L251.20 609.00L251.30 609.52L251.40 609.67L251.50 609.67L251.90 611.32L252.00 611.51L252.20 611.59L252.30 611.83L252.40 611.91L252.50 611.67L252.60 611.82L252.70 611.53L252.80 611.62L252.90 611.43L253.10 611.61L253.20 611.38L253.60 612.11L254.00 611.29L254.10 611.60L254.20 611.43L254.30 611.71L254.40 611.50L254.50 611.52L254.80 612.29L255.10 613.47L255.20 613.15L255.40 613.53L255.50 613.08L255.70 613.12L256.00 612.05L256.40 611.61L256.60 612.01L256.70 611.82L256.90 611.82L257.10 612.51L257.20 612.42L257.30 612.79L257.50 612.12L257.60 612.04L257.80 612.35L258.10 610.93L258.30 611.05L258.40 611.29L258.50 611.13L258.60 611.15L258.70 610.92L259.10 611.17L259.30 610.82L259.40 610.97L259.50 610.95L259.60 610.74L259.70 610.90L259.80 610.50L259.90 610.67L260.10 610.14L260.20 610.18L260.40 610.02L260.50 610.13L260.60 609.67L260.70 609.89L261.00 608.13L261.20 605.97L262.00 589.26L262.10 587.77L262.20 587.53L262.50 590.96L263.00 601.60L263.60 609.40L264.10 611.13L264.50 609.92L264.80 609.75L264.90 610.02L265.00 609.68L265.20 609.84L265.30 609.70L265.70 608.50L265.90 607.17L266.30 602.06L267.20 577.25L267.40 573.54L267.50 573.03L267.60 573.20L267.80 576.97L268.60 599.45L269.00 605.80L269.30 608.11L269.80 609.69L270.00 609.33L270.30 609.80L270.40 610.15L270.50 610.01L270.60 610.39L270.70 610.28L270.80 610.46L270.90 610.94L271.20 611.29L271.30 611.30L271.40 611.82L271.60 611.88L271.80 611.58L271.90 611.65L272.00 612.00L272.20 610.93L272.50 610.38L272.60 610.78L272.70 610.84L272.90 610.20L273.10 610.92L273.20 610.93L273.40 611.47L273.50 610.95L273.60 610.86L273.80 611.40L273.90 611.43L274.10 610.49L274.60 609.51L274.70 609.13L274.90 608.96L275.00 608.56L275.50 603.74L276.10 587.22L276.70 562.80L276.90 558.11L277.10 556.23L277.20 556.76L277.40 560.42L278.10 586.62L278.70 601.55L278.90 604.27L279.30 606.92L279.40 606.63L279.60 606.97L279.70 606.97L280.00 607.34L280.20 607.06L280.30 607.10L280.70 605.43L281.00 601.75L281.90 577.97L282.20 574.19L282.30 574.51L282.50 577.41L283.20 594.74L283.40 598.22L283.70 600.68L284.00 600.20L284.20 599.35L284.70 591.75L284.90 585.42L285.30 561.41L285.60 527.18L286.50 369.19L286.70 349.10L286.80 346.30L286.90 349.17L287.10 369.39L288.00 528.87L288.30 562.22L288.70 587.78L289.10 599.06L289.40 602.34L289.70 604.35L289.90 604.62L290.10 605.54L290.20 605.75L290.30 605.69L290.70 607.85L290.80 607.85L291.00 608.55L291.10 608.69L291.30 608.74L291.50 607.99L291.70 608.95L291.90 608.74L292.00 608.94L292.30 610.49L292.50 610.43L292.90 611.37L293.10 610.68L293.40 610.72L293.60 610.05L293.70 610.32L293.90 609.88L294.00 610.33L294.10 610.33L294.40 611.26L294.50 611.38L294.60 611.30L294.80 611.69L295.00 611.51L295.30 610.40L295.40 610.51L295.50 610.28L295.60 610.32L296.20 611.87L296.30 611.91L296.40 611.77L296.50 611.87L296.70 611.64L296.90 612.09L297.00 612.65L297.20 612.69L297.30 613.07L297.40 612.50L297.70 612.34L297.80 611.60L298.00 611.00L298.10 611.44L298.20 611.22L298.30 611.71L298.40 611.60L298.50 611.76L298.60 611.30L298.70 611.77L298.80 611.62L298.90 611.98L299.00 611.66L299.30 612.50L299.50 612.67L299.70 612.64L299.90 612.36L300.20 611.42L300.30 611.54L300.50 611.41L300.60 611.72L300.70 611.70L300.80 611.93L301.00 611.85L301.10 612.13L301.30 611.98L301.50 612.07L301.70 611.69L301.90 612.10L302.00 611.52L302.30 611.73L302.80 609.90L302.90 610.10L303.30 607.56L303.40 607.17L303.50 607.23L303.80 605.81L304.00 605.27L304.20 605.51L304.30 605.25L304.40 605.32L304.50 604.97L304.70 605.62L304.80 605.47L304.90 606.01L305.00 606.29L305.10 606.26L305.40 607.19L305.50 607.41L305.60 607.42L305.70 608.05L305.80 608.24L305.90 608.01L306.30 609.54L306.70 610.33L306.80 610.86L306.90 610.77L307.10 611.20L307.20 610.75L307.50 611.91L307.60 611.93L307.70 611.50L307.90 611.84L308.00 611.66L308.10 612.00L308.20 611.62L308.30 611.65L308.40 611.37L308.60 612.13L308.80 611.99L309.30 612.32L309.40 612.00L309.50 612.01L309.60 612.33L309.70 612.08L310.00 612.15L310.30 612.81L310.50 612.53L310.70 612.55L310.80 612.30L311.00 611.24L311.40 610.04L311.70 609.79L311.80 609.88L312.00 609.43L312.50 607.00L313.00 603.45L313.20 602.91L313.40 601.57L313.60 601.59L313.70 601.25L313.80 601.99L314.10 602.24L314.30 603.40L314.40 603.28L314.60 604.74L314.70 604.66L315.30 608.94L315.50 609.48L315.70 609.38L315.80 609.20L316.00 609.63L316.10 609.43L316.20 609.56L317.00 606.28L318.00 600.42L318.10 600.36L318.30 599.29L318.60 598.97L318.80 599.24L319.10 600.87L319.70 605.88L319.90 606.65L320.30 609.70L320.50 610.49L320.60 610.14L320.80 611.03L321.00 610.90L321.10 611.00L321.30 610.49L321.50 610.78L321.60 610.30L321.70 610.52L321.80 610.44L322.00 610.60L322.30 610.54L322.50 611.27L322.60 611.10L322.70 611.37L322.80 611.19L322.90 611.29L323.10 611.11L323.30 611.31L323.40 611.35L323.50 611.20L323.60 611.34L323.80 610.82L324.00 611.48L324.10 611.55L324.20 611.40L324.40 611.64L324.50 611.29L324.70 611.76L324.90 611.86L325.10 611.47L325.20 611.59L325.30 611.17L325.60 611.81L325.70 611.21L325.80 611.17L325.90 611.43L326.10 611.20L326.20 611.87L326.50 611.41L326.60 612.17L326.80 611.89L326.90 612.02L327.10 611.71L327.20 612.06L327.40 612.29L327.60 611.87L327.70 611.93L327.80 611.76L327.90 611.97L328.10 611.61L328.20 611.97L328.50 612.44L328.60 612.17L328.70 612.46L329.20 610.94L329.30 611.21L329.40 611.10L329.50 611.64L329.60 611.43L329.70 611.83L329.80 611.66L329.90 612.11L330.10 611.92L330.20 611.34L330.40 611.47L330.50 611.80L330.60 611.53L330.80 611.41L330.90 611.68L331.20 611.90L331.40 610.84L331.60 611.72L332.20 610.59L332.30 610.67L332.40 610.59L332.50 610.31L332.60 610.25L332.70 610.49L332.80 610.36L332.90 610.38L333.00 610.14L333.20 610.72L333.30 610.26L333.50 610.06L333.60 609.78L333.90 610.32L334.00 610.38L334.10 610.26L334.40 611.23L334.70 610.10L335.00 609.82L335.30 608.74L335.60 609.51L335.80 609.49L336.10 608.84L336.20 608.87L336.70 607.30L336.80 607.24L336.90 607.37L337.10 606.69L337.20 606.61L338.20 601.45L338.90 596.93L339.30 593.41L339.90 586.44L340.80 573.18L341.60 565.29L341.70 565.16L342.00 563.64L342.10 563.65L342.40 564.56L342.70 566.22L344.90 591.81L345.90 600.70L346.50 604.25L346.90 605.85L347.20 606.48L347.90 608.65L348.00 608.69L348.10 609.34L348.20 608.83L348.40 609.18L348.60 608.79L348.80 608.89L348.90 609.19L349.00 609.19L349.20 610.06L349.40 610.08L349.70 611.06L350.10 610.46L350.30 610.98L350.60 610.34L350.70 610.53L351.10 610.23L351.30 610.39L351.40 610.69L351.50 610.24L351.70 610.38L351.80 610.95L352.00 610.93L352.10 611.23L352.20 611.09L352.40 611.95L352.50 611.63L352.60 611.88L352.70 611.36L352.90 611.76L353.00 611.33L353.10 611.45L353.30 610.51L353.50 610.69L354.00 609.65L354.10 609.87L354.20 609.85L354.40 609.45L354.60 609.94L354.70 610.00L354.90 609.94L355.00 609.56L355.20 609.62L355.30 609.42L355.50 609.51L355.60 608.93L355.80 609.21L356.00 609.81L356.10 609.71L356.40 610.36L356.50 611.01L356.70 611.00L356.80 610.82L356.90 610.81L357.00 611.52L357.20 611.44L357.40 611.15L357.70 612.29L357.90 611.44L358.00 611.59L358.10 611.48L358.30 611.87L358.40 611.25L358.50 611.68L358.60 611.54L358.80 612.36L359.00 612.52L359.10 612.39L359.20 612.42L359.30 612.58L359.40 611.77L359.60 611.72L359.70 611.71L359.80 612.15L359.90 612.16L360.00 612.43L360.10 611.99L360.20 612.01L360.30 612.43L360.50 612.34L360.90 611.13L361.00 611.59L361.30 611.52L361.40 611.38L361.50 611.43L361.60 611.16L361.70 611.40L361.90 611.24L362.00 611.59L362.20 611.39L362.40 612.01L362.50 612.02L362.60 611.76L362.70 611.72L362.90 611.08L363.00 611.02L363.10 611.17L363.30 610.85L363.40 611.24L363.60 611.00L363.90 611.24L364.10 610.98L364.20 611.05L364.30 610.77L364.40 610.78L364.60 610.43L365.50 606.14L366.00 604.24L366.10 604.37L366.50 603.35L366.60 603.41L366.70 603.26L366.90 604.19L367.00 603.89L367.60 607.08L367.70 606.91L367.80 607.08L368.00 607.77L368.20 609.08L368.40 609.83L368.50 609.82L368.60 610.68L368.90 611.30L369.00 611.18L369.20 611.26L369.30 611.10L369.40 611.27L369.50 611.22L369.60 611.80L369.70 611.74L369.80 611.97L369.90 612.56L370.00 612.34L370.20 612.89L370.40 612.79L370.50 612.27L370.60 612.32L370.80 611.63L370.90 611.86L371.00 611.75L371.30 612.52L371.50 612.23L371.90 612.48L372.00 611.73L372.20 611.47L372.30 611.68L372.50 611.51L372.60 611.71L372.80 611.79L372.90 612.19L373.00 612.02L373.10 612.04L373.40 613.02L373.80 612.37L374.00 612.94L374.20 612.10L374.40 612.48L374.50 612.31L374.70 612.68L375.00 612.05L375.10 612.38L375.50 611.76L375.60 611.89L375.80 611.55L375.90 611.71L376.00 611.58L376.90 609.46L377.00 609.54L377.50 607.44L377.90 604.81L378.10 604.13L378.20 604.31L378.30 604.20L378.40 604.24L378.50 604.58L378.60 604.51L379.00 606.68L379.30 607.12L379.60 608.87L379.70 608.79L379.80 609.50L379.90 609.55L380.00 609.25L380.10 609.41L380.30 608.87L380.80 606.58L381.00 606.16L381.10 606.30L381.20 605.79L381.30 605.84L381.40 605.52L381.90 605.92L382.10 606.71L382.50 607.24L382.80 608.38L382.90 608.49L383.10 608.28L383.30 608.54L383.40 608.52L384.10 606.11L385.00 598.97L385.30 598.10L385.40 598.29L385.50 597.90L386.10 599.46L386.50 601.61L387.40 608.28L387.90 610.60L388.20 611.55L388.30 611.76L388.50 611.74L388.80 611.43L388.90 611.39L389.00 611.53L389.20 611.44L389.30 611.84L389.40 611.78L389.50 611.87L389.60 611.69L389.70 611.74L390.10 612.50L390.30 612.29L390.40 612.75L390.50 612.67L390.80 612.89L391.00 612.19L391.20 612.57L391.30 612.39L391.40 612.66L391.70 612.40L391.90 613.12L392.00 612.76L392.20 613.06L392.30 612.88L392.50 613.13L392.80 612.57L392.90 612.08L393.00 612.24L393.10 611.46L393.30 611.51L393.40 611.20L393.60 611.79L393.70 611.04L393.80 611.69L393.90 611.26L394.00 611.36L394.30 610.81L394.50 609.66L394.60 609.96L394.70 609.63L394.80 609.78L395.30 609.07L395.60 608.32L395.70 607.57L396.10 606.61L396.20 606.71L396.50 606.67L396.70 607.04L397.00 608.39L397.20 608.77L397.30 609.34L397.60 610.08L397.80 609.96L397.90 609.69L398.10 610.67L398.30 610.04L398.40 610.56L398.50 610.77L398.60 610.74L398.80 611.23L399.00 610.98L399.10 611.02L399.20 611.35L399.30 611.16L399.50 611.55L399.60 611.56L399.80 611.47L399.90 611.27L400.00 611.89L400.10 611.81L400.30 612.06L400.50 611.99L400.80 612.96L400.90 612.64L401.00 612.82L401.10 612.71L401.20 612.90L401.30 612.79L401.40 612.43L401.60 612.24L401.70 611.52L401.90 611.09L402.20 611.13L402.30 611.31L402.40 610.94L402.80 612.21L402.90 612.24L403.00 611.82L403.20 611.97L403.40 612.40L403.60 611.88L403.70 612.11L403.80 612.05L403.90 612.49L404.00 612.24L404.20 612.28L404.80 611.27L405.00 611.51L405.10 611.16L405.20 611.09L405.30 611.23L405.70 609.83L405.80 609.79L406.00 609.10L406.10 609.01L406.60 606.84L407.00 603.87L407.60 601.28L407.80 600.85L407.90 600.23L408.00 600.29L408.10 600.00L408.20 599.98L408.40 599.64L408.50 600.21L408.60 600.26L408.80 601.71L409.00 602.16L409.50 604.83L409.60 604.59L409.80 604.72L409.90 605.60L410.10 605.66L410.20 606.36L410.30 605.69L410.60 605.21L411.00 603.81L411.40 601.17L411.50 601.05L411.60 601.11L411.70 600.58L411.80 600.56L411.90 600.26L412.10 601.01L412.20 600.95L412.30 601.47L412.40 601.50L412.50 601.77L413.40 606.75L413.80 608.39L414.00 608.36L414.20 608.69L414.50 608.24L414.80 608.51L415.10 607.91L415.30 607.83L415.40 607.58L415.50 607.85L415.60 607.79L415.70 607.33L415.80 607.32L416.00 608.23L416.20 608.20L416.30 608.36L416.50 607.46L416.70 608.38L416.90 607.89L417.10 607.71L417.30 608.00L417.40 608.37L417.70 607.24L417.90 608.08L418.00 607.99L418.20 608.06L418.30 607.94L418.50 608.39L418.60 609.02L419.00 610.06L419.20 610.91L419.30 610.76L419.40 611.18L419.50 611.25L419.60 611.15L419.70 611.20L420.10 612.15L420.20 612.81L420.30 612.67L420.50 613.25L420.60 613.13L420.70 613.40L420.80 613.11L420.90 613.13L421.20 612.28L421.30 612.35L421.60 611.71L421.80 611.71L422.10 612.49L422.20 612.16L422.40 613.16L422.60 612.55L422.80 613.07L422.90 612.95L423.10 613.38L423.30 613.12L423.50 613.80L423.60 613.75L424.00 612.41L424.40 611.85L424.50 611.89L424.60 611.67L425.00 612.92L425.30 612.45L425.50 612.48L425.60 612.70L425.70 612.23L425.80 612.48L426.00 611.65L426.10 611.75L426.20 612.21L426.30 611.84L426.40 612.11L426.50 611.78L426.60 611.97L426.70 611.83L426.80 611.93L426.90 612.43L427.00 612.39L427.10 611.99L427.20 612.27L427.40 611.39L427.60 610.98L427.70 610.99L428.10 609.18L428.20 609.18L428.40 608.62L428.60 607.65L428.80 607.19L428.90 607.36L429.00 607.25L429.10 606.58L429.30 606.02L429.60 606.27L429.70 606.51L429.90 606.60L430.20 608.04L430.30 607.98L430.60 609.00L430.80 609.04L430.90 609.37L431.50 609.97L431.70 610.72L431.90 610.67L432.00 610.51L432.10 610.82L432.20 610.57L432.40 610.38L432.50 610.48L432.60 610.28L432.70 610.61L432.90 610.74L433.00 610.65L433.10 609.97L433.20 610.05L433.40 609.33L433.50 609.34L433.70 608.43L433.80 608.41L433.90 608.18L434.00 608.88L434.20 608.56L434.30 608.67L434.40 608.50L434.50 608.60L434.60 609.21L434.70 609.03L434.80 609.32L434.90 609.15L435.10 609.93L435.30 610.34L435.40 610.33L435.90 611.56L436.10 611.37L436.30 611.64L436.40 611.50L436.50 611.53L436.70 611.85L436.80 611.24L436.90 611.26L437.00 611.48L437.30 611.60L437.60 611.18L437.70 611.44L437.80 611.26L438.00 610.10L438.20 609.55L438.50 607.23L438.60 607.25L438.80 606.66L438.90 606.62L439.10 605.43L439.40 604.50L439.90 601.16L440.00 600.89L440.10 600.91L440.40 600.28L440.50 600.24L440.70 601.00L440.90 601.22L441.20 602.13L441.80 605.44L442.30 606.90L442.40 606.86L442.50 606.59L442.70 606.63L442.80 606.53L442.90 606.73L443.00 606.67L443.20 607.16L443.30 607.09L443.60 607.98L443.80 608.18L444.00 608.16L444.10 608.01L444.30 608.72L444.40 608.49L444.50 608.50L444.60 609.07L444.90 609.43L445.40 610.84L445.60 611.12L445.90 611.14L446.10 610.50L446.20 611.31L446.50 611.56L446.60 611.83L446.80 611.76L446.90 612.01L447.10 611.61L447.20 611.57L447.30 611.70L447.40 611.54L447.50 611.54L447.90 613.11L448.00 612.95L448.20 613.14L448.40 614.03L448.50 613.70L448.60 613.66L448.90 612.24L449.00 612.31L449.10 611.97L449.20 611.24L449.30 611.11L449.80 611.68L449.90 611.54L450.10 612.18L450.60 611.62L450.80 611.75L450.90 611.59L451.00 611.60L451.10 611.38L451.20 611.56L451.30 611.45L451.40 611.55L451.90 609.64L452.00 609.82L452.10 609.58L452.30 608.62L452.50 608.20L452.80 608.38L453.00 607.43L453.10 607.59L453.20 607.33L453.40 607.29L453.50 607.01L453.60 607.10L453.70 606.89L454.00 607.45L454.20 608.84L454.30 608.83L454.40 609.11L454.50 608.94L454.70 609.68L454.90 609.92L455.10 609.79L455.20 610.38L455.30 610.06L455.50 610.95L455.90 611.86L456.10 611.66L456.30 612.15L456.60 611.31L456.70 611.44L456.80 611.24L457.10 611.56L457.20 611.34L457.30 611.43L457.40 611.28L457.50 611.90L457.80 612.18L457.90 612.14L458.00 611.87L458.10 611.94L458.20 611.78L458.30 611.98L458.40 611.90L458.50 611.59L458.60 611.68L458.80 611.19L459.00 611.25L459.10 611.09L459.20 611.12L459.50 610.02L459.60 609.81L459.70 609.89L459.80 609.40L459.90 609.51L460.00 609.36L460.10 609.36L460.30 608.76L460.40 608.93L460.60 607.90L460.70 608.00L461.10 605.67L461.30 604.99L461.40 605.20L461.60 604.76L461.70 604.63L461.80 604.67L462.10 605.68L462.30 605.82L462.60 606.33L462.70 606.20L463.00 606.41L463.20 605.87L463.30 606.04L463.50 605.67L464.50 599.51L465.00 597.22L465.20 595.61L465.30 595.83L465.40 595.76L465.50 595.89L465.80 596.71L466.10 598.66L466.40 599.94L467.30 606.15L467.40 606.20L467.50 606.02L467.60 606.04L467.70 605.91L467.80 605.99L467.90 605.45L468.10 605.30L468.40 604.30L468.70 602.53L468.80 602.52L469.70 595.56L469.90 594.55L470.00 594.22L470.10 594.16L470.20 593.66L470.40 594.32L471.30 602.71L471.70 605.47L472.10 607.04L472.20 606.85L472.40 607.00L472.70 607.71L472.80 607.51L472.90 607.84L473.00 607.58L473.10 607.67L473.30 608.36L473.60 607.57L473.70 607.52L473.80 607.09L474.00 607.25L474.20 606.61L474.30 606.88L474.40 606.55L474.60 606.32L474.80 607.14L474.90 607.11L475.00 607.49L475.20 607.73L475.50 609.68L475.70 609.53L476.20 610.65L476.30 610.32L476.40 610.62L476.80 610.86L476.90 611.13L477.00 610.90L477.20 611.36L477.30 611.27L477.60 612.00L477.70 611.96L477.90 612.26L478.10 612.07L478.40 612.42L478.50 612.16L478.60 612.31L478.80 612.24L479.20 612.60L479.40 613.05L479.50 613.02L479.60 612.65L479.80 612.88L480.10 612.14L480.20 612.18L480.50 611.73L480.60 611.93L480.70 611.58L480.90 611.76L481.10 611.67L481.30 611.40L481.40 611.75L481.50 611.22L481.60 611.48L481.80 611.30L482.00 610.68L482.10 610.66L482.30 610.17L482.50 608.87L482.70 608.23L482.90 607.70L483.20 607.49L484.00 610.66L484.20 611.26L484.30 611.41L484.40 611.29L484.60 611.90L484.80 611.42L485.00 611.75L485.10 611.56L485.20 611.68L485.30 611.29L485.40 611.27L485.90 611.57L486.00 611.98L486.10 611.56L486.20 611.83L486.40 611.16L486.60 611.46L486.90 610.52L487.30 610.78L487.50 609.97L487.60 610.33L487.80 609.48L487.90 609.50L488.00 609.07L488.20 608.73L488.30 608.87L488.40 608.79L488.80 607.88L488.90 608.21L489.10 608.47L489.40 607.69L489.50 607.81L489.70 607.73L489.80 607.44L489.90 607.47L490.50 609.24L490.80 609.80L491.10 609.25L491.20 609.36L491.70 608.46L491.90 608.77L492.10 609.40L492.60 609.06L492.70 608.55L492.90 608.13L493.00 607.48L493.30 608.30L493.50 608.41L493.60 608.95L493.70 608.52L493.80 608.45L493.90 608.62L494.10 608.70L494.40 608.31L494.90 609.56L495.10 609.30L495.30 609.69L495.40 609.09L495.60 609.17L495.70 609.09L495.80 608.57L496.00 608.87L496.20 608.78L496.30 609.45L496.40 609.43L496.50 609.21L496.70 609.60L497.00 609.29L497.30 608.19L497.60 608.95L497.70 608.75L498.10 611.01L498.30 611.53L498.50 611.21L498.60 611.57L498.70 611.11L498.90 611.24L499.00 610.70L499.30 610.83L499.60 611.36L499.80 610.71L500.20 611.46L500.40 611.57L500.50 611.48L500.80 612.26L500.90 611.91L501.00 611.95L501.10 611.63L501.30 611.60L501.40 611.80L501.60 611.64L501.80 612.00L501.90 611.71L502.00 611.95L502.20 612.06L502.30 611.98L502.50 612.73L502.70 612.61L503.00 612.74L503.30 611.53L503.50 611.32L503.60 611.40L503.70 611.24L504.10 611.79L504.20 612.14L504.50 611.31L504.80 610.01L504.90 610.05L505.10 608.92L505.30 608.88L505.50 608.28L505.60 608.23L505.70 607.74L505.80 607.83L505.90 607.75L506.00 607.98L506.30 606.94L506.40 607.50L506.50 607.37L506.60 607.56L506.80 606.98L506.90 606.95L507.20 607.37L507.30 606.85L507.40 607.09L507.60 607.23L507.70 607.64L507.80 606.99L507.90 607.22L508.10 607.30L508.20 607.78L508.50 607.02L508.60 607.07L508.70 607.82L508.80 607.76L508.90 607.31L509.00 607.33L509.10 607.07L509.30 607.54L509.50 607.45L509.70 606.75L509.90 606.95L510.30 605.67L510.40 605.03L510.50 605.19L510.60 604.99L511.00 602.23L511.30 601.76L511.50 600.23L511.70 599.98L512.10 598.83L512.20 598.81L512.30 598.33L512.70 597.65L513.00 596.47L513.10 596.32L513.30 596.32L513.50 595.93L513.70 596.35L513.80 596.14L513.90 596.54L514.00 596.20L514.30 596.85L514.80 599.23L515.10 600.12L515.30 600.29L516.10 604.03L516.20 604.91L516.30 604.71L516.50 605.13L516.60 605.64L516.80 605.91L516.90 605.90L517.00 606.27L517.10 605.95L517.20 606.83L517.50 606.77L517.90 608.24L518.10 607.36L518.30 607.43L518.80 604.60L518.90 604.73L519.00 604.43L519.20 602.91L519.30 602.82L519.40 602.14L520.00 596.90L520.40 594.49L520.50 594.82L520.60 594.45L520.90 595.36L521.10 596.43L521.80 602.61L522.80 609.66L523.00 610.17L523.20 610.37L523.30 610.90L523.50 611.26L523.70 611.38L523.80 611.71L523.90 611.38L524.00 611.82L524.20 611.04L524.30 611.51L524.70 611.34L524.80 611.83L525.00 612.10L525.30 611.30L525.60 611.31L525.80 610.88L525.90 610.87L526.00 611.42L526.20 611.52L526.30 611.30L526.40 611.39L526.50 611.04L526.60 611.31L526.80 611.49L527.00 610.53L527.10 610.37L527.20 610.39L527.30 610.08L527.40 610.27L527.70 608.91L527.80 608.89L527.90 609.00L528.00 608.45L528.20 608.10L528.30 608.13L528.70 607.39L528.80 607.02L529.00 607.59L529.10 607.51L529.20 606.89L529.40 607.51L529.50 607.26L529.80 607.47L529.90 607.39L530.10 607.73L530.20 607.43L530.30 607.38L530.40 608.15L531.10 610.55L531.20 610.68L531.30 610.57L531.60 611.09L531.70 610.72L532.20 611.65L532.40 611.52L532.60 611.93L532.90 612.09L533.10 611.54L533.30 611.53L533.40 611.30L534.00 612.38L534.20 612.06L534.30 612.21L534.50 611.72L534.70 611.49L534.80 611.90L534.90 611.70L535.10 612.42L535.40 612.30L535.60 612.34L536.10 610.98L536.30 611.19L536.50 610.56L536.70 611.33L536.90 610.54L537.40 610.21L537.60 608.92L537.70 609.13L538.20 606.54L538.30 606.39L538.60 604.84L538.70 604.82L538.90 603.18L539.00 602.81L539.10 602.86L539.20 602.53L539.40 602.81L539.50 602.64L539.80 604.76L540.20 605.85L540.40 606.81L540.60 607.20L540.70 607.20L540.90 607.76L541.30 609.98L541.50 610.47L541.70 611.49L541.80 611.50L542.10 611.20L542.30 611.24L542.40 611.39L542.50 610.98L542.60 611.03L542.90 612.11L543.10 611.76L543.20 611.88L543.40 612.78L543.50 612.43L543.60 612.65L543.70 612.37L544.10 612.82L544.30 611.98L544.60 613.04L544.80 612.19L544.90 612.34L545.00 612.06L545.10 612.06L545.20 612.23L545.50 611.29L545.70 611.18L545.80 610.98L545.90 611.31L546.00 611.32L546.20 611.02L546.30 611.46L546.40 611.24L546.60 611.63L547.00 609.62L547.10 609.54L547.40 608.46L547.50 608.43L547.60 608.92L547.70 608.75L547.80 608.98L547.90 609.53L548.30 609.89L548.50 609.89L548.70 610.57L548.80 610.53L549.00 611.23L549.10 611.25L549.40 612.39L549.50 612.07L549.80 611.72L549.90 611.30L550.00 611.54L550.20 611.06L550.30 611.11L550.40 611.75L550.60 611.85L550.70 612.19L551.00 611.68L551.10 611.92L551.20 611.58L551.30 611.51L551.50 611.61L551.60 611.37L551.90 612.37L552.00 612.11L552.10 612.12L552.20 611.69L552.40 612.25L552.80 611.48L553.00 611.35L553.10 611.79L553.30 611.29L553.40 611.59L553.70 611.02L553.90 611.07L554.10 610.48L554.20 610.56L554.50 609.92L554.60 610.19L554.80 609.84L555.00 609.16L555.10 609.33L555.20 609.11L555.30 609.26L555.40 609.93L555.70 609.87L555.80 610.12L555.90 610.15L556.20 609.99L556.30 609.67L556.40 609.65L556.60 609.85L556.70 609.79L556.80 610.12L556.90 610.06L557.00 610.11L557.10 610.37L557.30 610.25L557.60 610.97L557.70 611.57L557.90 611.71L558.00 611.45L558.10 611.48L558.20 611.72L558.40 611.82L558.60 610.83L558.70 611.39L559.10 612.03L559.30 612.11L559.50 612.76L559.60 612.49L559.80 612.56L560.00 612.50L560.10 612.61L560.30 612.00L560.40 612.55L560.70 612.08L560.80 612.22L561.00 611.55L561.10 611.44L561.20 611.51L561.40 611.09L561.80 611.43L561.90 611.79L562.10 611.32L562.20 611.30L562.30 611.59L562.50 611.63L562.60 611.14L562.70 611.54L562.90 611.21L563.00 611.49L563.10 611.48L563.20 611.16L563.30 611.30L563.40 611.08L563.50 611.25L563.70 610.51L563.90 610.74L564.10 610.46L564.30 609.72L564.40 609.72L564.60 609.40L564.70 609.40L564.90 608.11L565.20 607.60L565.50 606.16L565.60 606.06L565.70 606.19L565.80 606.08L566.20 604.99L566.40 605.60L566.50 605.17L566.60 605.23L566.90 606.01L567.40 605.12L568.00 600.44L568.50 593.25L569.10 582.00L569.40 577.80L569.80 574.36L570.00 574.71L570.20 575.62L570.40 577.92L571.50 596.88L572.20 605.62L572.70 609.26L572.90 609.97L573.10 610.20L573.20 611.02L573.30 610.98L573.40 611.09L573.50 611.41L573.60 611.25L573.70 611.31L573.80 611.08L574.00 611.87L574.10 611.58L574.20 612.08L574.40 612.21L574.50 612.50L574.60 612.33L574.80 612.57L574.90 612.13L575.00 612.15L575.30 611.46L575.40 611.93L575.60 611.92L575.70 611.64L575.80 611.97L575.90 612.10L576.00 612.06L576.10 611.83L576.20 611.87L576.30 611.17L576.40 611.46L576.50 611.41L576.60 611.56L576.80 610.89L577.00 611.77L577.10 611.63L577.20 611.71L577.40 611.62L577.60 611.41L577.70 611.61L577.80 611.47L578.10 612.14L578.20 611.83L578.50 612.06L578.60 611.98L579.00 611.37L579.10 611.46L579.30 611.30L579.40 611.60L579.50 611.26L579.60 611.25L579.90 610.13L580.00 610.00L580.10 610.19L580.20 609.96L580.40 609.92L580.50 609.40L580.60 609.67L580.70 609.52L580.80 609.56L581.40 608.34L581.60 607.57L581.70 607.59L581.80 607.81L581.90 607.80L582.10 607.52L582.60 609.59L582.80 609.77L583.30 610.62L583.40 610.31L583.50 610.32L583.60 610.19L583.90 610.79L584.10 610.40L584.20 610.44L584.40 610.75L584.70 611.68L584.80 611.51L584.90 611.63L585.10 612.43L585.30 612.43L585.40 612.70L585.50 612.37L585.70 612.51L585.90 612.43L586.00 611.90L586.20 612.54L586.50 611.86L586.60 612.15L587.10 611.47L587.20 610.99L587.40 611.41L587.50 611.08L587.60 611.18L587.70 611.12L587.80 611.49L588.00 611.39L588.10 611.85L588.30 611.29L588.40 611.33L588.70 610.79L588.80 611.04L589.00 610.63L589.10 610.87L589.30 610.84L589.50 611.16L589.70 610.18L589.80 610.58L589.90 610.18L590.20 610.49L590.40 610.19L590.50 610.31L590.60 610.98L590.70 610.62L590.80 611.19L591.10 610.65L591.40 611.42L591.50 610.91L591.60 610.88L591.70 610.62L591.80 610.70L592.00 611.35L592.30 611.71L592.50 612.47L592.70 612.45L592.80 612.30L593.10 611.02L593.20 611.00L593.30 611.36L593.40 611.18L593.50 611.57L593.60 611.39L594.00 613.07L594.10 613.05L594.30 612.75L594.40 612.79L594.50 613.18L594.60 612.76L595.00 613.12L595.20 613.11L596.00 612.14L596.10 612.51L596.20 612.27L596.40 612.40L596.50 612.30L596.70 612.59L597.00 611.57L597.10 612.05L597.20 612.09L597.40 612.65L597.60 612.78L597.80 613.73L597.90 613.83L598.00 613.50L598.40 613.23L598.60 613.29L598.80 613.08L599.00 613.38L599.10 612.92L599.30 612.85L599.40 612.64L599.60 612.94L599.70 613.40L599.80 613.42L600.00 613.88L600.20 613.06L600.40 613.44L600.50 613.35L600.60 612.83L600.90 612.39L601.10 613.46L601.40 612.39L601.50 612.31L601.60 612.47L601.70 612.29L601.80 612.39L601.90 611.98L602.00 611.98L602.10 612.53L602.20 612.18L602.30 612.19L602.80 611.30L603.00 610.40L603.10 610.45L603.50 609.93L603.70 610.10L603.80 609.92L604.00 610.15L604.20 610.76L604.50 610.68L604.60 610.45L604.80 610.50L605.00 610.29L605.10 610.49L605.20 610.17L605.40 610.48L605.50 610.39L605.60 610.93L605.70 610.85L605.90 611.42L606.00 611.30L606.10 611.89L606.20 611.83L606.30 611.89L606.40 612.24L606.50 611.98L606.60 612.21L606.90 611.74L607.00 611.36L607.10 611.70L607.40 612.03L607.60 612.73L607.80 612.70L607.90 612.79L608.10 613.35L608.20 613.13L608.30 613.42L608.60 612.96L608.70 613.16L608.80 612.99L609.00 611.95L609.10 612.23L609.20 611.59L609.50 611.04L609.60 610.59L609.70 611.03L609.90 611.20L610.00 610.63L610.10 610.96L610.30 610.52L610.50 610.72L610.80 609.56L611.40 608.84L611.50 608.39L611.80 608.53L611.90 608.85L612.00 608.77L612.10 609.25L612.20 609.28L612.30 609.17L612.40 609.40L612.60 609.51L612.80 609.13L612.90 609.31L613.00 609.14L613.20 609.35L613.40 609.87L613.60 609.94L613.70 609.84L614.00 610.15L614.10 610.07L614.20 610.20L614.30 609.85L614.50 610.39L614.70 610.05L614.90 610.18L615.10 610.47L615.20 611.36L615.40 611.66L616.00 613.38L616.70 612.27L616.80 612.43L617.00 611.77L617.40 613.49L617.50 613.41L617.60 613.74L618.00 614.06L618.30 613.09L618.50 612.73L618.60 612.21L618.70 612.48L618.90 611.82L619.20 612.10L619.50 612.75L619.60 612.36L619.70 612.90L620.00 613.09L620.30 612.62L620.50 613.14L620.60 612.69L620.70 612.91L620.90 612.29L621.10 613.06L621.40 612.64L621.50 613.14L621.70 613.47L621.80 613.41L622.00 612.69L622.20 613.00L622.50 612.21L622.70 612.43L622.80 612.35L622.90 612.77L623.00 612.83L623.10 612.15L623.30 612.19L623.60 611.55L623.70 611.71L623.90 611.12L624.10 611.59L624.20 611.39L624.30 611.55L624.40 611.25L624.60 611.05L624.80 611.50L624.90 611.44L625.00 611.08L625.10 611.21L625.20 611.06L625.30 611.04L625.40 611.19L625.50 611.09L625.70 610.21L625.90 610.86L626.00 610.55L626.10 610.53L626.30 610.21L626.40 610.19L626.60 610.62L626.80 610.04L626.90 610.02L627.10 610.23L627.20 610.08L627.40 610.72L627.50 610.67L627.60 610.80L627.70 610.71L628.10 611.59L628.20 611.51L628.30 611.98L628.40 611.88L628.70 612.79L628.80 612.41L629.00 612.58L629.20 612.20L629.30 612.48L629.50 612.64L629.60 612.29L629.70 612.73L630.00 613.06L630.40 612.13L630.70 611.96L631.00 612.67L631.20 612.74L631.40 613.54L631.60 613.79L631.80 613.00L632.00 612.78L632.10 612.87L632.30 612.45L632.50 612.32L632.70 612.73L632.80 612.42L632.90 612.52L633.00 612.22L633.10 612.25L633.30 611.85L633.40 611.93L633.60 611.59L633.70 611.94L633.80 611.70L634.00 611.55L634.10 611.70L634.20 611.63L634.30 611.24L634.40 611.67L634.60 611.55L634.70 611.27L634.90 611.12L635.00 610.67L635.20 610.59L635.50 610.07L635.60 610.43L635.70 610.23L635.90 610.66L636.00 610.40L636.10 610.45L636.40 610.03L636.50 610.12L636.60 610.00L636.80 609.31L636.90 609.23L637.30 609.69L637.50 609.34L637.80 610.65L638.00 610.51L638.20 610.18L638.40 610.97L638.60 611.31L638.80 611.02L639.10 612.07L639.50 611.38L639.70 611.96L639.80 611.69L639.90 611.66L640.30 612.24L640.50 611.58L640.60 611.77L640.80 611.58L641.00 611.58L641.10 612.37L641.20 612.35L641.40 613.05L641.50 612.98L641.70 613.19L641.80 612.90L642.00 613.12L642.10 612.93L642.30 613.44L642.50 612.87L642.70 613.90L642.90 612.93L643.00 613.29L643.20 612.09L643.40 612.65L643.60 611.72L643.80 611.93L643.90 611.78L644.10 612.37L644.20 612.17L644.50 613.47L644.60 613.67L644.70 613.68L644.80 613.43L644.90 613.46L645.00 613.33L645.10 613.06L645.40 611.68L645.50 611.86L645.80 611.99L646.00 613.05L646.30 613.91L646.40 613.58L646.50 613.63L646.60 613.37L646.70 613.74L646.80 613.56L646.90 612.91L647.20 612.35L647.30 612.44L647.40 612.31L647.50 612.67L647.70 612.02L647.90 613.03L648.10 613.02L648.20 613.42L648.40 613.06L648.60 613.56L648.80 612.52L648.90 612.42L649.00 612.46L649.10 611.87L649.20 611.76L649.30 612.00L649.50 611.15L649.70 610.80L649.80 610.02L649.90 610.06L650.00 609.79L650.20 608.58L650.30 608.78L650.50 608.63L650.90 607.61L651.10 607.91L651.30 606.83L651.40 607.24L652.10 608.56L652.20 608.54L652.40 607.93L652.70 608.41L653.10 609.79L653.30 611.07L653.50 611.42L653.70 611.35L653.80 611.44L654.00 611.17L654.10 610.71L654.30 610.65L654.50 610.96L654.60 610.95L654.70 610.69L655.10 611.57L655.20 611.51L655.30 611.18L655.60 611.33L655.70 611.07L655.90 610.94L656.00 610.59L656.20 610.61L656.30 610.11L656.50 610.18L656.60 610.35L656.70 610.09L656.80 610.54L656.90 610.50L657.10 610.02L657.20 610.16L657.30 609.36L657.60 608.74L657.70 608.23L657.80 608.16L658.00 608.25L658.10 608.16L658.20 608.65L658.30 608.51L658.50 608.95L658.80 610.11L658.90 610.98L659.00 610.69L659.20 611.77L659.40 612.07L659.50 611.95L659.70 612.05L659.80 611.53L659.90 611.99L660.00 611.78L660.10 611.87L660.20 611.79L660.40 612.52L660.60 612.60L660.90 613.38L661.00 613.19L661.20 613.38L661.30 613.28L661.50 613.60L661.70 613.37L661.80 613.72L661.90 613.77L662.30 613.77L662.40 613.54L662.60 613.76L662.80 613.11L662.90 613.27L663.10 612.73L663.30 612.80L663.60 612.36L663.70 612.90L663.90 612.75L664.10 613.36L664.20 613.38L664.30 613.69L664.40 613.60L664.50 614.27L664.60 614.31L664.70 614.73L665.00 614.70L665.10 614.54L665.20 614.60L665.30 615.10L665.40 614.57L665.50 614.60L665.60 613.80L665.70 613.95L665.80 613.93L665.90 613.55L666.00 614.08L666.20 613.29L666.60 614.26L666.80 614.03L666.90 613.65L667.10 613.57L667.60 612.67L667.70 612.77L667.80 612.44L668.50 613.78L668.70 614.58L668.90 614.46L669.20 613.99L669.40 613.95L669.60 613.37L669.70 613.61L670.20 613.03"/>
<path d="M51.00 927.13L51.20 926.55L51.30 926.66L51.40 926.50L51.70 926.90L51.80 926.54L52.10 926.97L52.20 926.73L52.40 926.93L52.60 926.45L52.80 926.70L53.00 926.70L53.10 926.93L53.40 926.60L53.60 926.94L53.90 926.92L54.00 926.70L54.30 926.90L54.40 926.79L54.50 926.96L54.70 926.50L54.90 926.66L55.00 926.55L55.30 926.95L55.50 927.04L55.60 927.35L55.70 927.28L55.80 927.37L56.00 926.94L56.20 926.99L56.40 926.72L56.50 926.71L56.60 926.97L56.70 926.70L56.90 927.16L57.00 927.14L57.10 926.86L57.30 927.05L57.50 926.81L57.60 927.14L57.70 927.08L57.80 927.21L57.90 927.04L58.00 927.46L58.10 927.30L58.20 927.46L58.80 927.25L58.90 926.95L59.00 927.10L59.10 926.95L59.50 927.54L59.60 927.47L59.90 927.64L60.00 927.55L60.10 927.69L60.20 927.65L60.40 927.02L60.60 927.15L61.20 926.57L61.30 926.72L61.50 926.19L61.70 926.63L62.00 926.26L62.10 926.56L62.20 926.55L62.40 927.16L62.60 926.84L62.70 927.04L63.10 927.06L63.20 926.68L63.30 926.71L63.40 926.53L63.50 926.74L63.80 926.68L64.00 926.19L64.30 926.14L64.40 926.02L64.50 926.13L64.70 926.04L64.80 926.44L64.90 926.31L65.20 926.56L65.30 926.54L65.40 926.36L65.60 926.93L65.70 926.72L65.90 927.14L66.20 927.27L66.30 927.51L66.40 927.09L66.50 927.22L66.60 927.09L66.80 927.05L66.90 926.88L67.10 927.25L67.20 927.17L67.30 927.54L67.40 927.42L67.50 927.70L67.60 927.72L67.80 927.63L68.10 927.23L68.30 927.15L68.60 926.65L68.70 926.80L68.80 926.71L69.00 926.79L69.10 926.53L69.20 926.57L69.30 926.48L69.50 926.98L69.60 926.91L69.70 926.98L69.80 926.69L70.00 927.09L70.10 927.03L70.20 927.13L70.40 926.92L70.60 926.85L70.70 927.02L71.10 927.06L71.60 927.59L71.80 927.47L72.00 927.60L72.40 927.42L72.60 926.97L72.70 927.15L73.20 926.80L73.50 927.13L73.60 926.95L73.70 927.09L73.80 926.92L73.90 927.15L74.00 927.03L74.20 927.11L74.50 927.47L74.60 927.36L74.90 928.28L75.00 928.30L75.30 927.99L75.40 928.06L75.60 928.00L75.80 927.25L76.20 927.09L76.50 926.65L76.80 926.66L76.90 926.42L77.00 926.63L77.10 926.36L77.40 926.52L77.80 927.13L77.90 927.05L78.00 927.47L78.30 927.55L78.90 926.26L79.00 926.35L79.20 926.12L79.60 926.33L79.70 926.58L80.00 926.52L80.20 926.80L80.30 927.18L80.50 927.36L80.60 927.30L80.70 927.50L80.90 927.22L81.00 927.37L81.20 926.94L81.50 927.17L81.70 927.02L81.80 927.21L81.90 927.04L82.10 927.37L82.20 927.29L82.60 927.76L82.90 927.60L83.00 927.38L83.10 927.47L83.30 927.04L83.50 927.06L83.60 927.29L83.70 927.07L83.90 927.28L84.00 927.23L84.10 927.40L84.40 927.08L84.50 927.08L84.60 927.26L84.80 927.27L85.20 926.98L85.30 927.02L85.40 926.63L85.60 926.69L85.70 926.61L85.90 926.73L86.20 926.47L86.30 926.57L86.50 926.41L86.70 926.45L86.80 926.38L87.00 926.91L87.10 926.90L87.30 927.15L87.70 926.99L87.80 927.09L87.90 927.00L88.20 927.23L88.50 927.68L88.60 928.00L88.70 927.76L88.80 927.80L89.00 927.67L89.10 927.79L89.20 927.69L89.30 927.73L89.50 927.41L89.60 927.63L89.90 927.74L90.30 926.81L90.50 926.80L90.70 926.43L90.90 927.17L91.20 927.53L91.40 927.22L91.60 927.20L91.80 926.73L91.90 926.68L92.00 926.78L92.10 926.62L92.50 927.09L92.90 926.42L93.10 926.45L93.30 926.20L93.50 926.21L93.60 926.42L93.90 926.23L94.20 926.41L94.30 926.22L94.40 926.29L94.60 926.21L94.80 926.51L95.00 926.59L95.10 926.45L95.20 926.63L95.30 926.61L95.60 927.20L95.70 927.24L95.80 927.06L95.90 927.07L96.00 927.35L96.30 927.59L96.50 927.12L96.60 927.05L96.80 927.10L97.20 926.61L97.30 926.61L97.50 926.89L97.70 926.56L98.10 926.95L98.30 926.56L98.60 926.80L98.90 926.33L99.10 926.28L99.20 926.37L99.30 926.16L99.40 926.36L99.50 926.22L99.60 926.23L99.80 926.59L99.90 926.49L100.00 926.72L100.20 926.82L100.40 927.15L100.50 927.04L100.70 927.02L100.80 927.20L101.30 927.01L101.40 927.07L101.60 926.76L101.80 926.68L102.00 926.88L102.10 926.65L102.40 927.17L102.70 927.16L103.10 926.93L103.30 926.55L103.40 926.63L103.60 926.42L103.90 926.84L104.00 926.68L104.20 927.10L104.30 926.95L104.40 926.96L104.60 927.27L104.70 926.93L104.80 926.82L104.90 926.88L105.10 926.58L105.20 926.90L105.30 926.95L105.50 926.62L105.60 926.98L105.90 927.25L106.00 927.21L106.20 926.74L106.40 927.00L106.50 926.94L106.60 927.21L106.90 927.05L107.10 927.26L107.20 927.08L107.30 927.10L107.50 926.54L107.90 927.02L108.10 926.68L108.30 927.18L108.50 927.14L108.70 926.83L108.90 927.15L109.00 927.62L109.10 927.44L109.20 927.62L109.40 927.54L109.60 927.81L109.90 927.10L110.00 927.14L110.10 926.82L110.30 926.63L110.40 926.71L110.50 926.61L110.80 927.10L110.90 926.90L111.00 927.09L111.10 926.87L111.20 927.09L111.30 927.06L111.40 927.20L111.70 926.51L111.80 926.58L111.90 926.43L112.00 926.57L112.10 926.27L112.30 926.30L112.60 926.82L112.80 926.85L113.00 927.24L113.40 927.00L113.50 926.83L113.60 926.89L113.80 926.39L114.50 926.49L114.70 927.26L114.90 927.50L115.00 927.26L115.10 927.39L115.20 927.31L115.40 927.46L115.80 926.72L116.30 927.15L116.50 926.95L116.70 927.22L116.90 927.09L117.00 927.33L117.10 927.25L117.20 926.80L117.50 927.25L117.60 927.14L117.70 927.20L117.80 927.00L118.10 926.86L118.20 926.59L118.40 926.59L118.60 926.09L119.00 926.67L119.20 926.79L119.30 926.75L119.60 927.28L119.80 927.30L119.90 927.65L120.10 927.80L120.20 928.04L120.30 927.85L120.40 928.18L120.60 927.77L120.70 927.86L121.10 927.17L121.20 927.38L121.30 927.17L121.40 927.42L121.70 927.39L121.90 927.68L122.10 927.69L122.20 927.49L122.60 927.61L122.70 927.49L122.90 927.52L123.00 927.28L123.10 927.42L123.30 927.19L123.40 927.28L123.60 926.95L123.70 926.96L123.80 926.83L124.00 927.31L124.10 927.00L124.20 927.10L124.30 926.95L124.70 927.21L124.90 926.87L125.00 926.96L125.30 926.60L125.40 926.83L125.60 926.75L125.70 926.83L125.80 927.13L126.10 927.41L126.40 927.34L126.50 927.30L126.70 926.82L126.80 926.90L127.30 926.09L127.50 926.00L127.60 926.23L127.70 926.18L128.00 926.46L128.40 927.39L128.60 927.06L129.00 927.56L129.10 927.55L129.40 927.15L129.50 927.31L129.90 927.05L130.10 926.76L130.20 926.75L130.50 927.23L130.80 926.92L131.10 927.17L131.30 926.88L131.50 926.89L131.60 927.10L131.70 926.92L132.00 926.78L132.10 926.83L132.30 926.58L132.40 926.63L132.50 926.52L132.70 926.72L132.80 926.62L132.90 926.73L133.00 926.60L133.20 926.90L133.30 926.86L133.60 927.16L133.90 927.07L134.10 926.81L134.30 927.02L134.50 926.71L134.70 926.71L135.00 927.14L135.50 926.80L135.60 926.92L135.70 926.87L136.20 927.48L136.30 927.47L136.50 926.97L136.60 927.03L136.70 926.93L136.90 926.48L137.00 926.59L137.10 926.52L137.30 926.93L137.50 926.79L137.60 926.48L137.80 926.66L138.10 926.32L138.40 926.43L138.70 926.84L139.20 927.27L139.40 927.29L139.50 926.95L139.70 926.89L139.80 926.73L139.90 926.75L140.00 926.50L140.10 926.57L140.20 926.50L140.40 926.80L140.50 926.67L140.80 926.80L140.90 927.03L141.10 927.18L141.20 927.14L141.30 927.29L141.50 927.01L141.70 926.94L142.00 927.03L142.20 926.78L142.40 927.01L142.50 926.85L142.60 927.09L142.70 926.83L142.90 926.62L143.00 926.74L143.10 926.55L143.20 926.74L143.30 926.73L143.40 927.05L143.60 926.89L143.80 927.20L143.90 927.04L144.10 927.12L144.40 926.38L144.50 926.53L144.60 926.38L144.80 926.60L144.90 926.90L145.00 926.78L145.10 926.81L145.30 927.28L145.50 927.32L145.60 927.16L145.70 927.21L145.80 927.06L146.00 927.10L146.10 926.95L146.40 927.09L146.50 926.90L146.70 927.08L146.80 926.94L146.90 927.13L147.20 927.27L147.40 927.54L147.60 927.36L147.70 927.58L148.00 927.41L148.10 927.58L148.20 927.36L148.30 927.50L148.40 927.34L148.50 927.43L148.70 927.08L148.80 927.27L149.00 926.92L149.10 927.02L149.30 927.00L149.40 926.76L149.50 926.70L149.60 926.79L149.70 926.62L149.80 926.70L149.90 926.51L150.10 926.38L150.40 926.77L150.50 926.71L150.60 926.89L150.70 926.74L150.80 927.15L150.90 927.04L151.10 927.24L151.20 927.12L151.40 927.21L151.50 927.04L151.60 927.15L151.80 926.90L152.10 927.19L152.20 927.12L152.30 927.20L152.50 927.15L152.60 926.93L152.70 927.03L152.90 926.35L153.10 926.44L153.30 926.36L153.60 926.49L153.80 927.01L154.10 926.90L154.20 927.10L154.30 926.90L154.50 927.14L154.70 926.89L154.90 927.11L155.10 926.89L155.30 926.97L155.60 926.83L155.70 926.48L155.80 926.43L156.00 926.78L156.20 926.41L156.30 926.58L156.40 926.41L156.60 926.74L156.80 926.80L156.90 926.58L157.10 926.96L157.20 926.84L157.40 926.93L157.50 926.81L157.70 926.86L157.90 927.04L158.00 927.01L158.10 927.24L158.30 926.99L158.40 927.16L158.50 927.02L158.60 927.14L159.00 926.64L159.10 926.87L159.30 926.50L159.40 926.57L159.50 926.50L159.70 926.71L159.90 926.72L160.00 926.52L160.30 926.73L160.40 926.45L160.80 926.17L161.20 926.51L161.50 927.14L161.70 927.20L161.80 927.50L162.00 927.24L162.20 927.30L162.30 927.12L162.50 927.07L162.60 927.21L162.70 927.18L162.90 927.53L163.20 927.55L163.40 927.34L163.50 927.05L163.60 927.02L163.70 926.74L163.80 926.84L164.10 926.21L164.20 926.25L164.40 926.64L164.50 926.48L164.80 926.37L165.20 926.92L165.60 926.62L165.80 926.86L166.00 926.93L166.30 926.82L166.50 927.08L166.70 926.89L167.00 926.86L167.30 927.09L167.40 926.89L167.50 926.90L167.70 927.21L167.90 926.89L168.00 926.95L168.10 926.81L168.30 927.29L168.50 927.56L168.60 927.48L168.80 927.76L168.90 927.59L169.00 927.68L169.10 927.58L169.30 927.59L169.40 927.17L169.60 926.94L169.80 927.27L170.20 927.07L170.50 927.48L170.70 926.95L170.80 927.05L170.90 926.88L171.20 926.81L171.40 926.61L171.60 927.03L171.80 926.90L172.30 927.52L172.50 927.38L172.60 927.16L172.70 927.16L172.90 926.65L173.00 926.73L173.20 926.37L173.40 926.40L173.50 926.74L173.70 926.82L173.80 927.08L174.00 926.68L174.40 926.50L174.60 926.67L174.70 926.41L175.00 926.94L175.10 926.90L175.20 927.07L175.50 927.12L175.60 927.34L175.70 927.14L175.80 927.20L175.90 927.09L176.00 927.24L176.20 926.95L176.60 927.54L176.90 927.15L177.10 927.51L177.20 927.29L177.40 927.21L177.50 927.04L177.60 927.18L178.00 926.65L178.10 926.78L178.20 926.68L178.40 926.84L178.50 926.72L178.60 926.79L178.70 927.18L178.80 927.07L179.10 927.22L179.20 927.11L179.50 927.22L179.60 926.86L179.80 927.07L179.90 926.74L180.00 926.85L180.10 926.80L180.30 927.09L180.40 926.99L180.60 927.07L180.70 926.97L180.80 927.03L180.90 926.83L181.00 926.93L181.10 926.69L181.20 926.72L181.40 927.21L181.50 927.16L181.70 927.50L181.90 927.57L182.00 927.91L182.10 927.66L182.30 927.41L182.40 927.48L182.60 927.05L182.90 926.74L183.00 926.91L183.10 926.80L183.60 927.60L183.70 927.53L183.80 927.62L183.90 927.58L184.10 927.27L184.40 927.37L184.50 927.19L184.60 927.39L184.80 926.89L185.00 927.52L185.30 926.90L185.40 926.95L185.50 926.84L185.60 927.06L185.70 926.97L185.90 926.35L186.10 926.57L186.30 926.51L186.40 926.22L186.60 926.60L186.70 926.59L186.80 926.74L187.00 926.50L187.20 926.62L187.30 926.97L187.40 926.97L187.60 926.62L187.70 926.67L187.80 927.02L188.00 927.05L188.20 927.02L188.30 926.84L188.50 927.02L188.60 926.94L188.70 926.48L189.00 926.78L189.10 926.59L189.50 926.66L189.60 927.18L189.80 927.15L190.00 927.68L190.30 927.91L190.40 927.90L190.50 927.59L190.70 927.45L191.00 926.65L191.20 926.58L191.50 926.82L191.60 926.59L191.90 926.74L192.00 926.69L192.40 925.86L192.60 926.35L192.80 926.25L192.90 926.31L193.10 926.77L193.20 926.75L193.30 926.92L193.40 926.96L193.50 926.51L193.90 927.26L194.00 927.08L194.10 927.24L194.30 927.02L194.40 927.38L194.90 926.55L195.00 926.89L195.10 926.92L195.30 926.66L195.40 926.91L195.50 926.81L195.60 926.32L195.80 926.58L195.90 926.19L196.20 925.88L196.40 926.02L196.50 926.44L196.90 926.72L197.00 927.00L197.20 926.71L197.30 926.71L197.40 926.37L197.50 926.52L197.70 926.27L197.80 926.39L197.90 926.28L198.10 926.80L198.20 926.77L198.30 927.01L198.40 926.80L198.80 927.36L199.00 927.06L199.20 927.41L199.30 927.37L199.40 927.08L199.70 926.94L199.80 927.02L200.10 926.47L200.50 926.62L200.90 926.09L201.00 925.76L201.10 925.97L201.20 925.73L201.50 925.68L201.60 925.71L201.70 926.01L201.80 925.96L201.90 926.35L202.00 926.11L202.10 926.38L202.20 926.26L202.30 926.34L202.80 926.28L202.90 926.39L203.00 926.29L203.20 926.74L203.40 926.43L203.60 926.58L203.80 926.23L203.90 926.46L204.10 926.18L204.70 927.14L205.00 926.64L205.20 926.94L205.40 926.45L205.50 926.45L205.80 926.10L205.90 926.40L206.10 925.91L206.30 925.86L206.40 925.58L206.60 925.83L206.80 925.50L207.10 925.85L207.20 925.70L207.40 926.13L207.50 926.17L207.90 925.94L208.00 925.70L208.10 925.86L208.20 925.63L208.40 925.53L208.60 925.90L208.70 925.67L209.00 926.06L209.10 926.38L209.20 926.24L209.30 926.28L209.50 926.13L209.60 926.32L209.70 925.93L209.80 925.88L210.00 925.38L210.50 924.58L210.90 924.54L211.10 924.11L211.20 924.20L211.40 923.87L211.50 924.08L211.80 923.40L211.90 923.48L212.70 921.84L212.80 921.28L212.90 921.24L213.20 920.63L213.40 919.90L213.70 917.92L214.00 914.47L214.30 908.11L214.70 895.31L215.10 873.61L216.30 767.63L216.60 749.14L216.80 745.32L217.00 749.37L217.20 760.18L218.30 859.72L218.90 895.74L219.30 908.76L219.60 914.28L219.90 917.53L220.50 920.72L221.00 922.68L221.20 922.96L221.60 922.92L221.90 923.08L222.40 924.16L222.60 924.11L222.70 924.19L223.00 923.91L223.40 924.36L223.90 925.27L224.10 925.37L224.20 925.29L224.40 925.44L224.60 925.46L225.40 924.66L225.60 924.80L225.90 924.79L226.00 924.95L226.10 924.78L226.40 925.21L226.50 925.12L226.60 925.17L226.80 925.54L226.90 925.44L227.10 925.94L227.30 926.03L227.50 926.38L227.70 925.96L227.80 926.32L228.30 925.14L228.40 925.15L228.60 925.64L228.70 925.46L228.80 925.65L228.90 925.41L229.20 926.06L229.30 926.06L229.40 925.88L229.60 925.96L229.80 926.30L230.10 926.23L230.30 926.74L230.40 926.46L230.50 926.66L230.60 926.46L230.70 926.65L231.00 926.52L231.20 926.03L231.30 926.18L231.40 926.07L231.50 926.26L231.70 926.05L232.00 926.64L232.30 926.89L232.40 927.11L232.60 927.21L232.80 926.94L232.90 927.10L233.00 926.84L233.10 926.97L233.30 926.33L233.50 926.64L233.60 926.55L233.70 926.69L233.80 926.59L233.90 926.61L234.00 926.46L234.10 926.62L234.30 926.51L234.40 926.14L234.50 926.29L234.70 925.85L234.80 925.95L234.90 925.80L235.20 925.64L235.30 925.78L235.40 925.62L235.60 925.89L235.70 925.74L236.00 926.36L236.10 926.39L236.20 926.23L236.30 926.38L236.50 926.30L236.60 926.41L236.80 925.92L237.00 925.85L237.10 926.19L237.40 925.87L237.70 926.55L237.80 926.32L237.90 926.47L238.00 926.33L238.30 926.60L238.40 926.33L238.60 926.24L238.70 926.44L238.80 926.29L239.20 926.39L239.40 926.92L239.60 926.56L239.80 926.50L240.00 926.16L240.10 926.28L240.30 925.82L240.50 926.10L240.60 925.84L241.00 925.79L241.10 925.95L241.40 925.52L241.50 925.57L241.60 925.41L241.80 925.60L242.10 925.35L242.20 925.47L242.30 925.38L242.40 925.53L242.50 925.53L242.60 925.77L242.80 925.78L242.90 925.70L243.00 926.00L243.40 925.84L243.50 925.51L243.70 925.30L243.80 925.54L243.90 925.10L244.10 925.27L244.20 925.07L244.50 925.17L244.70 924.99L244.80 925.20L245.20 924.47L245.30 923.95L245.80 922.56L245.90 922.45L246.00 922.55L246.10 922.29L246.40 922.03L246.80 920.99L247.20 918.18L247.50 913.49L248.00 900.41L248.50 875.94L249.30 821.31L249.50 812.43L249.70 809.37L249.90 812.77L250.10 821.05L250.90 874.90L251.40 899.82L251.60 906.32L252.00 914.21L252.20 916.16L252.60 918.32L252.80 918.43L253.30 916.91L253.80 912.76L254.00 909.74L254.40 900.16L255.30 872.87L255.60 866.89L255.80 865.56L256.00 866.77L256.20 870.48L257.10 898.77L257.50 908.44L257.90 915.51L258.30 919.86L258.60 922.00L258.90 923.40L259.10 923.77L259.20 923.73L259.60 924.20L259.80 924.19L259.90 923.98L260.10 924.23L260.30 924.15L260.40 924.30L260.50 924.15L260.90 924.57L261.10 925.06L261.20 925.21L261.30 925.20L261.50 925.55L261.60 925.33L261.90 925.24L262.20 924.78L262.70 924.76L262.90 924.49L263.20 924.67L263.30 924.59L263.50 924.66L263.60 924.45L264.00 924.25L264.20 923.81L264.40 923.67L264.60 923.95L264.80 923.49L264.90 923.53L265.00 923.45L265.10 923.80L265.40 923.41L265.50 923.48L265.70 923.35L266.10 922.24L266.30 921.36L266.90 915.95L267.30 908.93L267.50 903.25L268.00 883.23L268.90 832.63L269.10 825.82L269.30 823.25L269.50 825.83L269.70 832.70L270.60 882.75L271.00 900.08L271.50 913.41L271.80 917.92L272.10 920.31L272.50 921.82L272.80 922.56L272.90 922.44L273.20 923.38L273.50 923.53L273.70 923.45L273.80 923.88L273.90 923.77L274.00 923.96L274.10 923.92L274.20 924.03L274.40 923.89L274.50 924.12L274.70 924.10L274.80 924.43L274.90 924.37L275.10 924.73L275.20 924.45L275.50 924.87L275.60 924.90L275.70 924.62L275.80 924.82L275.90 924.72L276.00 924.76L276.30 925.15L276.60 925.17L276.70 925.38L276.80 925.35L277.00 925.59L277.20 925.12L277.40 925.35L277.60 925.01L277.70 925.09L277.80 924.77L277.90 924.76L278.00 925.00L278.10 925.03L278.30 924.88L278.50 924.99L278.80 925.59L279.10 925.62L279.20 925.27L279.30 925.50L279.70 924.79L280.00 924.80L280.10 925.06L280.20 924.61L280.30 924.80L280.50 924.67L280.70 924.30L280.90 924.40L281.00 924.21L281.10 924.34L281.20 924.10L281.50 924.11L281.60 924.27L281.70 924.01L282.20 923.40L282.30 923.35L282.40 923.44L282.90 923.16L283.00 922.88L283.20 922.76L283.40 922.41L283.50 922.44L283.80 921.94L284.00 921.80L284.30 920.67L284.60 919.83L284.70 919.76L285.20 917.99L285.70 914.00L286.30 904.37L286.70 890.82L287.10 867.22L287.50 830.66L288.70 681.21L288.90 666.86L289.10 662.05L289.20 662.82L289.30 666.31L289.60 690.52L290.90 850.55L291.20 873.58L291.60 894.54L292.00 907.08L292.30 912.20L292.60 915.45L293.20 918.16L293.40 918.45L293.80 919.76L294.00 920.09L294.30 921.35L294.50 921.33L294.90 922.37L295.00 922.33L295.90 923.96L296.00 924.01L296.10 923.93L296.60 924.15L296.80 923.68L297.00 923.69L297.50 924.45L297.60 924.37L297.80 925.00L297.90 924.87L298.10 924.87L298.20 924.65L298.30 924.75L298.40 924.67L298.50 924.92L298.60 924.66L298.80 924.71L299.00 924.97L299.20 924.85L299.40 925.45L299.50 925.52L299.60 925.30L299.70 925.60L299.80 925.59L300.10 926.11L300.40 925.67L300.50 925.79L300.70 925.78L300.80 925.68L300.90 925.71L301.00 925.44L301.10 925.43L301.20 925.69L301.40 925.72L301.60 925.48L301.90 925.82L302.00 925.69L302.50 926.64L302.60 926.65L302.70 926.42L302.90 926.33L303.50 925.62L303.70 926.01L303.90 926.12L304.00 926.44L304.10 926.49L304.20 926.29L304.30 926.42L304.50 926.26L304.90 925.38L305.40 925.88L305.80 926.69L306.10 926.65L306.20 926.84L306.60 926.03L306.90 925.74L307.00 925.84L307.10 925.60L307.70 926.34L307.90 926.16L308.00 926.35L308.10 926.29L308.30 926.53L308.50 926.17L308.60 926.14L309.00 926.65L309.10 926.39L309.30 926.58L309.40 926.55L309.50 926.73L309.60 926.45L309.90 926.08L310.00 926.18L310.40 925.90L310.60 925.98L310.80 925.81L311.00 926.17L311.20 925.95L311.30 926.20L311.50 926.34L311.70 926.68L311.90 926.44L312.00 926.81L312.20 926.45L312.30 926.66L312.40 926.52L312.60 927.05L312.70 927.04L312.80 927.20L312.90 926.87L313.10 927.38L313.20 927.21L313.30 927.38L313.50 926.63L313.80 926.76L314.00 926.50L314.10 926.56L314.20 926.49L314.40 926.76L314.60 926.41L315.10 926.63L315.30 926.56L315.50 927.18L315.60 927.15L315.70 926.84L316.20 927.11L316.40 926.82L316.70 927.20L317.00 926.49L317.20 926.40L317.30 926.19L317.50 926.26L317.60 926.07L317.90 926.41L318.00 926.75L318.30 926.44L318.40 926.67L318.50 926.67L318.70 926.23L318.80 926.27L318.90 926.08L319.00 926.07L319.10 926.32L319.40 926.02L319.50 926.17L319.80 926.28L320.20 925.90L320.60 926.47L320.70 926.21L320.80 926.20L321.00 926.70L321.20 926.48L321.30 926.50L321.40 926.23L321.60 926.28L321.80 926.66L321.90 926.49L322.10 926.79L322.20 926.77L322.40 927.37L322.50 927.33L322.60 927.53L322.70 927.13L322.90 927.10L323.30 926.37L323.40 926.59L323.50 926.38L323.60 926.57L324.00 926.61L324.20 926.52L324.60 926.67L324.80 926.58L325.00 926.80L325.40 926.34L325.60 926.48L325.80 926.82L326.10 927.00L326.30 927.32L326.50 927.41L326.70 927.34L326.90 927.05L327.00 927.16L327.40 926.82L327.90 926.88L328.10 926.46L328.30 926.38L328.80 926.48L328.90 926.20L329.10 926.35L329.20 926.27L329.30 926.43L329.40 925.94L329.70 925.86L329.90 926.41L330.00 926.29L330.10 926.41L330.20 926.22L330.30 926.61L330.50 926.57L330.60 926.36L330.70 926.49L330.80 926.35L330.90 926.43L331.00 926.34L331.10 926.45L331.20 926.36L331.30 926.63L331.40 926.45L331.80 926.46L331.90 926.56L332.20 926.41L332.40 926.98L332.50 926.68L332.80 926.60L332.90 926.43L333.00 926.50L333.30 926.03L333.40 926.24L333.70 926.45L333.90 926.29L334.00 926.02L334.40 926.62L334.60 926.34L334.80 926.49L334.90 926.73L335.20 925.88L335.30 925.82L335.40 926.14L335.50 926.16L335.70 925.90L335.80 925.91L335.90 926.17L336.00 926.12L336.10 926.22L336.20 926.22L336.30 925.90L336.40 925.88L336.70 926.02L336.80 925.90L336.90 926.12L337.20 925.61L337.30 925.59L337.50 925.78L337.80 925.04L338.20 925.10L338.50 924.63L338.60 924.61L338.70 924.73L339.00 924.59L339.30 923.91L339.50 924.15L339.90 922.66L340.10 922.63L340.50 921.50L340.80 920.18L341.60 912.43L342.30 901.88L343.90 866.47L344.10 863.47L344.40 860.83L344.60 861.13L344.70 861.73L345.20 868.29L346.50 898.32L347.20 910.48L348.00 918.92L348.50 922.15L349.00 923.48L349.10 923.99L349.40 923.77L349.50 924.10L349.80 924.34L349.90 924.62L350.00 924.60L350.20 924.79L350.60 925.52L350.80 925.28L350.90 925.29L351.00 925.46L351.20 925.33L351.30 925.48L351.50 925.29L351.70 925.55L351.80 925.37L351.90 925.37L352.10 925.66L352.30 925.14L352.70 925.58L353.00 925.48L353.20 925.89L353.50 925.24L353.60 925.39L353.90 925.35L354.10 925.63L354.20 925.42L354.40 925.74L354.50 925.62L354.80 926.09L354.90 926.19L355.00 926.14L355.20 926.43L355.60 926.05L355.80 926.14L355.90 926.05L356.00 926.42L356.50 927.02L356.60 926.72L356.80 926.93L356.90 926.73L357.10 926.83L357.20 926.77L357.30 926.92L357.50 926.83L357.70 926.43L358.00 926.20L358.10 926.29L358.30 926.11L358.40 926.26L358.50 926.12L358.70 926.49L358.80 926.35L359.30 926.74L359.40 926.59L359.60 926.67L359.70 927.03L359.90 926.90L360.10 927.09L360.20 926.94L360.30 927.15L360.50 926.98L360.70 926.42L360.80 926.65L361.00 926.32L361.40 926.63L361.70 926.24L361.90 926.36L362.10 926.28L362.30 925.94L362.50 926.34L362.90 926.00L363.20 926.45L363.30 926.25L363.60 926.20L363.80 926.56L363.90 926.61L364.10 926.47L364.20 926.63L364.30 926.59L364.70 927.16L364.80 927.05L365.00 927.25L365.10 927.08L365.40 927.47L365.50 927.45L365.60 927.02L365.80 927.07L365.90 926.92L366.00 927.01L366.10 926.89L366.40 926.08L366.50 926.32L366.90 926.34L367.10 926.78L367.60 926.69L367.70 926.51L367.80 926.77L368.10 926.50L368.20 927.09L368.30 927.09L368.40 926.67L368.60 926.59L368.70 926.20L368.80 926.24L369.20 925.70L369.30 926.05L369.40 926.01L369.90 927.08L370.30 927.32L370.40 927.53L370.90 926.30L371.00 926.35L371.30 926.03L371.40 926.22L371.50 926.18L371.70 926.67L371.80 926.48L372.10 926.81L372.30 926.30L372.40 926.42L372.60 926.25L372.70 926.54L372.80 926.53L372.90 926.68L373.00 926.54L373.20 926.72L373.30 926.62L373.40 926.81L373.80 926.36L374.20 926.58L374.30 926.46L374.50 926.44L375.20 926.94L375.70 926.58L375.90 926.60L376.20 925.89L376.40 925.68L376.80 925.75L376.90 925.54L377.20 926.46L378.10 924.60L378.70 924.51L378.80 924.63L379.00 924.26L379.10 924.25L379.40 923.09L379.70 922.48L380.10 920.93L380.40 918.97L380.70 915.36L381.20 903.63L382.30 859.47L382.50 853.99L382.70 852.37L382.90 853.97L383.10 858.82L383.90 891.00L384.40 906.68L384.80 912.74L384.90 913.39L385.00 913.45L385.20 913.16L385.30 912.55L385.60 908.75L386.00 899.16L387.20 842.09L387.40 835.67L387.60 833.32L387.80 835.32L388.00 842.24L388.90 889.08L389.50 910.29L389.90 917.08L390.40 921.04L391.10 923.86L391.50 924.67L391.60 924.77L391.70 924.72L391.80 925.04L391.90 924.80L392.10 924.64L392.40 924.81L392.50 924.63L392.70 924.92L392.80 925.37L393.10 925.57L393.40 926.13L393.60 926.28L393.80 925.99L394.00 926.15L394.50 925.57L394.70 925.82L394.90 925.60L395.00 925.69L395.10 925.58L395.30 925.93L395.40 925.77L395.50 925.78L395.70 926.37L395.80 926.27L396.00 926.48L396.20 926.41L396.40 926.80L396.60 926.47L396.70 926.97L397.00 926.59L397.20 926.71L397.40 926.30L397.50 926.50L397.60 926.20L397.80 926.39L398.10 926.23L398.50 926.34L398.70 926.07L398.80 926.18L398.90 926.09L399.00 926.13L399.20 926.37L399.50 926.19L399.90 926.72L400.00 926.75L400.20 926.56L400.30 926.86L400.40 926.88L400.50 926.68L400.60 926.77L400.70 926.42L400.90 926.37L401.10 926.70L401.20 926.56L401.40 927.06L401.50 926.91L401.70 927.20L401.80 926.94L402.20 927.17L402.30 927.05L402.40 927.19L402.50 927.16L402.60 927.03L402.70 927.19L402.90 926.74L403.20 926.75L403.30 926.55L403.40 926.94L403.60 926.75L403.80 926.84L404.00 926.42L404.20 926.57L404.50 926.27L404.70 926.35L404.80 926.65L405.20 926.88L405.40 927.42L405.60 927.18L405.80 927.51L406.40 926.46L406.50 926.59L406.70 926.02L407.00 926.63L407.30 926.89L407.40 926.79L407.50 927.05L407.60 927.08L407.70 926.81L407.80 926.88L407.90 926.81L408.20 927.17L408.30 927.14L408.40 926.81L408.50 927.00L408.60 926.96L409.10 926.16L409.30 926.74L409.40 926.41L409.60 926.64L409.80 926.37L409.90 926.72L410.10 926.38L410.40 926.90L410.50 926.76L410.70 927.40L410.80 926.93L411.00 927.37L411.20 926.95L411.40 926.73L411.50 926.76L411.60 926.41L411.80 926.78L412.10 926.53L412.30 926.79L412.40 926.57L412.50 926.57L412.70 926.07L412.90 926.26L413.30 927.02L413.40 927.03L413.50 927.34L413.80 927.24L414.10 926.80L414.30 926.88L414.50 926.56L414.80 926.79L415.00 926.65L415.20 926.75L415.40 926.98L415.50 926.84L415.70 927.14L415.80 926.93L415.90 927.13L416.10 926.92L416.40 927.32L416.60 927.05L416.70 927.30L416.80 927.29L416.90 927.00L417.10 927.00L417.30 926.61L417.40 926.60L417.70 926.85L417.90 927.39L418.00 927.11L418.20 927.43L418.40 927.44L418.70 927.03L419.00 927.62L419.10 927.40L419.30 927.43L419.40 927.80L419.60 927.64L419.70 927.40L419.80 927.53L419.90 927.28L420.10 927.66L420.40 927.05L420.50 927.06L420.60 927.36L420.70 927.14L420.80 927.16L420.90 926.88L421.20 926.68L421.30 926.86L421.50 926.31L421.70 926.34L421.90 926.10L422.10 926.38L422.20 926.03L422.30 926.25L422.50 926.17L422.80 926.53L422.90 926.32L423.10 926.63L423.20 926.33L423.40 926.61L423.70 926.24L424.10 926.89L424.30 926.45L424.70 926.86L424.80 926.59L425.00 926.62L425.20 926.92L425.50 926.60L425.60 926.35L425.70 926.62L425.80 926.63L426.10 926.15L426.50 926.97L426.60 926.61L427.00 927.32L427.30 926.93L427.60 927.14L428.00 926.56L428.20 927.22L428.30 926.90L428.40 927.04L428.50 926.98L428.60 927.09L428.80 927.02L428.90 927.25L429.10 926.62L429.20 926.80L429.50 926.60L429.60 926.84L429.80 926.43L430.00 926.92L430.20 926.82L430.30 927.04L430.60 927.04L430.70 927.18L430.90 926.85L431.20 926.80L431.30 926.92L431.40 926.77L431.70 926.91L431.90 927.14L432.10 926.75L432.20 927.03L432.40 926.96L432.60 927.13L432.80 926.89L433.00 926.83L433.10 926.53L433.30 926.42L433.40 926.49L433.50 926.43L433.70 926.10L434.00 926.35L434.10 926.32L434.20 926.49L434.40 926.10L434.70 927.00L434.80 926.98L435.10 927.25L435.20 927.09L435.40 927.11L435.50 926.77L435.90 926.21L436.10 926.49L436.40 926.51L436.80 926.75L437.00 926.52L437.10 926.96L437.20 926.68L437.30 926.79L437.50 926.69L437.60 926.47L437.90 926.94L438.00 926.51L438.20 926.84L438.30 926.87L438.60 926.49L439.00 927.13L439.10 926.89L439.40 927.35L439.50 927.38L440.10 926.36L440.40 927.06L440.70 927.02L441.10 927.59L441.30 927.09L441.50 927.20L442.10 926.38L442.20 926.58L442.30 926.59L442.40 926.40L442.50 926.56L442.70 926.39L442.90 926.69L443.00 926.52L443.10 926.55L443.30 926.38L443.50 926.04L443.70 926.00L443.90 926.04L444.00 926.19L444.10 926.11L444.40 926.52L444.80 926.55L444.90 926.38L445.10 926.48L445.20 926.89L445.60 927.08L445.70 927.27L445.80 927.18L445.90 927.33L446.00 927.29L446.20 927.01L446.40 927.17L446.60 927.08L446.80 927.28L446.90 927.07L447.10 927.42L447.70 926.57L447.80 926.62L448.00 926.38L448.20 926.47L448.40 926.44L448.70 927.04L448.90 926.85L449.20 927.14L449.50 926.45L449.60 926.39L449.80 926.50L449.90 926.17L450.60 925.48L450.90 925.72L451.20 926.20L451.40 926.15L451.50 925.96L451.70 925.94L452.00 925.66L452.10 925.67L452.20 925.72L452.40 926.24L452.50 926.13L452.80 926.20L453.10 926.67L453.20 926.49L453.50 926.53L453.70 926.25L454.00 926.28L454.20 925.78L454.30 925.89L454.50 925.83L454.60 925.94L455.10 925.20L455.30 925.08L455.40 925.16L455.50 925.00L455.60 925.10L455.80 924.81L456.00 925.17L456.10 924.73L456.50 924.21L456.80 923.99L456.90 923.75L457.00 924.03L457.20 923.19L457.70 921.91L458.10 919.62L458.90 910.54L460.30 887.54L460.60 884.52L460.80 883.60L461.10 885.23L461.40 888.63L462.70 910.63L463.30 917.58L463.90 920.83L464.40 922.63L464.50 922.69L464.60 922.59L464.80 922.86L464.90 922.84L465.00 923.07L465.10 922.85L465.20 923.26L465.30 923.11L465.50 923.69L465.60 923.70L465.70 923.53L465.80 923.76L466.00 923.59L466.10 923.23L466.20 923.32L466.50 922.97L466.60 923.12L466.80 922.80L466.90 922.93L467.00 922.91L467.20 922.63L467.30 922.72L467.40 922.61L467.60 922.87L467.70 922.42L467.90 922.21L468.30 921.02L468.40 920.23L469.00 918.30L469.50 914.30L469.90 905.74L470.20 894.03L470.80 842.20L471.70 717.90L472.00 699.87L472.10 700.09L472.30 709.27L473.00 773.50L473.80 819.84L474.50 875.90L474.90 899.30L475.20 909.45L475.70 917.45L476.20 921.10L476.70 922.40L476.90 922.56L477.30 923.43L477.50 923.45L477.60 923.20L477.70 923.37L477.80 923.12L478.00 923.19L478.10 923.44L478.20 923.25L478.30 923.43L478.40 923.42L478.50 923.85L478.60 923.68L478.90 924.44L479.40 924.76L479.50 924.62L479.60 924.67L479.80 924.13L480.10 924.09L480.30 924.26L480.70 925.23L480.90 925.42L481.00 925.39L481.30 925.55L481.50 925.22L481.60 925.22L481.70 925.02L481.90 924.93L482.20 924.30L482.30 924.26L482.40 924.42L482.60 923.84L482.90 923.63L483.50 920.63L484.50 912.62L485.00 910.15L485.30 911.21L485.60 913.26L485.90 916.24L486.90 923.39L487.20 924.43L488.20 926.51L488.40 926.56L488.60 925.98L488.70 926.02L488.90 925.88L489.20 925.49L489.50 926.05L489.70 926.04L489.90 926.42L490.20 926.40L490.50 926.51L490.70 925.80L490.80 926.01L490.90 925.74L491.00 925.80L491.10 925.70L491.40 926.02L491.60 926.79L491.70 926.50L491.80 926.87L491.90 926.90L492.20 926.78L492.30 926.44L492.40 926.63L492.50 926.49L492.60 926.66L492.80 926.55L492.90 926.59L493.00 926.39L493.20 926.34L493.30 926.17L493.60 926.21L493.90 926.83L494.10 926.99L494.20 926.97L494.30 927.17L494.60 927.37L494.90 926.91L495.00 926.83L495.10 926.88L495.20 926.70L495.50 925.79L495.60 925.95L495.70 925.93L495.90 926.39L496.00 926.25L496.10 926.40L496.20 926.24L496.40 926.42L496.50 926.15L497.20 926.86L497.30 926.73L497.40 927.08L497.50 926.73L497.60 926.95L497.70 926.86L498.00 926.88L498.10 926.67L498.20 926.94L498.30 926.62L498.40 926.89L498.70 926.06L498.90 926.11L499.00 926.47L499.10 926.31L499.20 926.47L499.30 926.43L499.70 926.76L499.90 926.31L500.00 926.48L500.20 926.07L500.30 926.26L500.50 926.17L500.60 925.93L500.80 926.22L500.90 926.11L501.10 926.70L501.20 926.51L501.30 926.68L501.40 926.57L501.50 926.73L501.90 926.96L502.00 926.85L502.40 927.63L502.50 927.48L502.70 927.65L502.80 927.49L502.90 927.49L503.10 927.03L503.30 926.89L503.40 927.12L503.50 926.82L503.70 926.93L503.80 927.19L503.90 927.23L504.10 927.11L504.30 926.50L504.50 926.55L504.60 926.68L504.70 926.27L504.90 926.35L505.00 926.28L505.20 926.60L505.30 926.61L505.40 926.22L505.50 926.20L505.60 926.39L505.70 926.34L505.90 926.49L506.20 926.47L506.30 926.88L506.50 926.69L506.80 926.61L507.00 926.77L507.20 926.44L507.50 926.25L507.60 926.27L507.70 926.53L507.80 926.32L507.90 926.33L508.00 926.63L508.20 926.69L508.30 926.58L508.50 926.70L509.10 925.56L509.20 925.87L509.30 925.65L509.40 925.68L509.50 925.35L509.70 925.91L510.10 925.50L510.20 925.66L510.30 925.49L510.40 925.94L510.60 925.44L510.80 925.79L510.90 925.82L511.10 925.48L511.30 925.41L511.40 925.44L511.50 925.71L511.90 925.36L512.60 923.69L513.10 922.21L513.40 920.81L514.10 915.57L515.20 903.08L515.60 899.92L515.90 898.75L516.10 898.97L516.20 898.89L516.30 899.12L516.60 900.51L517.70 911.49L518.40 916.60L518.80 918.28L518.90 918.26L519.10 918.94L519.40 918.38L519.60 917.45L519.80 915.49L520.00 912.46L520.50 897.92L520.90 876.23L521.60 824.82L521.80 814.49L522.00 810.40L522.10 810.72L522.20 812.70L522.30 816.53L523.10 853.41L523.30 856.18L523.40 856.39L523.70 856.37L523.80 856.91L524.00 860.85L524.80 901.26L525.20 914.12L525.60 920.26L525.90 922.24L526.20 923.42L526.60 924.12L526.70 924.00L526.80 924.13L527.20 925.42L527.30 925.22L527.50 925.18L527.60 925.61L528.00 924.76L528.10 924.66L528.20 924.87L528.50 924.73L528.60 925.05L528.70 925.14L528.80 925.05L528.90 925.32L529.10 925.28L529.30 925.86L529.40 925.85L529.50 925.63L529.60 925.82L529.70 925.84L529.80 925.50L529.90 925.52L530.00 925.76L530.10 925.61L530.70 926.83L530.90 926.57L531.00 926.69L531.10 926.54L531.50 926.77L531.60 926.66L531.70 926.90L531.80 926.91L531.90 926.58L532.00 926.65L532.10 926.44L532.20 926.57L532.30 926.34L532.50 926.38L532.60 926.25L532.80 926.63L533.00 926.60L533.30 926.27L533.50 926.53L533.70 926.49L534.10 927.02L534.20 926.90L534.30 927.01L534.60 926.87L534.70 926.60L534.90 926.44L535.00 926.48L535.10 926.79L535.20 926.62L535.30 926.68L535.40 926.48L535.70 926.62L535.80 926.45L535.90 926.64L536.10 926.28L536.30 926.57L536.60 926.68L536.70 926.99L536.80 926.69L536.90 926.61L537.00 926.73L537.50 925.98L537.90 926.27L538.20 926.93L538.30 926.89L538.40 927.21L538.50 927.15L538.80 927.68L538.90 927.66L539.00 927.42L539.10 927.52L539.20 927.35L539.40 927.32L540.00 925.73L540.10 925.76L540.30 925.44L540.40 925.43L540.50 925.74L540.80 925.99L541.20 926.96L541.30 927.05L541.40 926.90L541.50 926.93L541.70 927.44L542.00 927.11L542.40 927.49L542.60 926.95L542.70 926.91L542.90 927.24L543.10 927.01L543.20 927.05L543.30 926.78L543.40 926.87L543.50 926.82L543.60 927.02L543.70 927.02L543.90 926.75L544.20 926.91L544.50 926.72L544.70 927.01L544.80 926.94L545.30 927.40L545.50 927.22L545.60 926.94L545.70 927.13L545.90 926.44L546.20 926.35L546.30 926.45L546.40 926.22L546.50 926.29L546.60 926.23L546.70 926.42L546.90 925.94L547.10 926.27L547.50 926.26L547.80 926.80L547.90 926.67L548.20 926.92L548.50 926.56L548.60 926.84L548.80 927.01L548.90 926.74L549.00 926.76L549.10 927.10L549.40 927.39L549.60 927.03L549.80 927.20L550.50 927.21L550.90 926.40L551.00 926.54L551.20 926.37L551.70 927.59L551.90 927.40L552.10 927.50L552.40 926.53L552.60 926.27L552.80 926.30L552.90 926.44L553.20 926.95L553.40 927.59L553.50 927.52L553.60 927.60L553.90 927.33L554.30 926.65L554.50 926.76L554.70 927.06L554.80 927.00L554.90 927.07L555.00 927.43L555.20 927.45L555.40 927.10L555.50 927.15L555.70 926.71L555.80 926.94L556.10 926.72L556.20 926.85L556.30 926.91L556.40 926.83L556.50 926.93L556.80 926.62L557.00 926.65L557.30 926.32L557.60 926.37L557.90 925.60L558.10 925.42L558.80 923.11L559.40 919.58L559.80 917.84L559.90 917.85L560.00 917.66L560.20 917.89L560.30 918.36L560.40 918.36L561.30 922.83L561.80 924.81L561.90 924.88L562.40 926.16L562.60 926.15L562.70 925.98L562.80 926.29L562.90 926.33L563.00 926.15L563.20 926.16L563.30 925.88L563.40 926.39L563.50 926.31L563.60 926.43L563.80 926.24L563.90 926.50L564.10 926.42L564.20 926.66L564.30 926.23L564.60 926.24L564.70 926.01L565.00 926.10L565.10 925.97L565.30 926.00L565.60 926.38L565.70 926.09L566.20 926.05L566.40 925.64L566.50 925.84L566.60 925.84L566.80 925.15L567.10 925.11L567.30 925.25L567.50 925.14L567.70 925.52L567.80 925.34L567.90 925.38L568.20 924.84L568.50 924.97L569.10 924.21L569.40 922.38L570.20 913.97L571.10 901.54L571.50 898.02L571.60 897.82L571.70 897.80L571.80 897.87L572.10 900.11L572.60 906.41L573.20 911.75L573.60 913.07L574.30 914.64L575.40 921.80L576.20 924.40L576.30 924.38L576.50 924.72L576.60 924.66L576.70 924.83L577.00 924.93L577.30 924.68L577.50 925.26L578.00 925.13L578.30 925.53L578.40 925.36L578.50 925.39L578.70 925.51L578.80 925.73L579.00 925.81L579.10 925.83L579.20 925.46L579.30 925.43L579.40 925.66L579.50 925.53L579.60 925.66L579.90 925.22L580.00 925.24L580.10 925.53L580.70 923.44L581.20 920.62L581.70 916.03L582.70 901.68L582.90 899.82L583.20 898.74L583.30 898.66L583.70 901.29L584.50 910.72L584.80 913.31L585.10 914.85L585.40 915.84L585.70 916.10L585.90 916.46L587.10 922.90L587.20 922.80L587.70 924.71L588.00 924.99L588.10 925.44L588.40 925.33L588.70 925.49L589.40 926.55L589.50 926.37L589.90 926.10L590.20 926.23L590.30 926.17L590.60 926.46L590.70 926.74L590.90 926.76L591.00 926.60L591.60 926.67L591.80 926.47L591.90 926.56L592.00 926.20L592.20 926.52L592.40 926.49L592.60 926.68L592.70 926.57L592.90 927.27L593.00 927.27L593.10 927.55L593.20 927.54L593.30 927.69L593.40 927.58L593.50 927.61L593.60 927.73L593.70 927.22L594.00 926.62L594.10 926.69L594.20 926.46L594.30 926.52L594.50 926.17L594.60 926.37L594.80 926.50L595.10 926.45L595.20 926.19L595.30 926.40L595.50 926.44L595.60 926.29L595.80 926.46L596.00 926.36L596.50 926.92L596.70 926.33L596.80 926.33L597.00 926.67L597.10 926.52L597.20 926.61L597.30 926.57L597.50 927.04L597.70 927.13L597.90 927.08L598.30 926.28L598.50 926.20L598.60 926.33L598.80 925.96L599.20 926.88L599.30 926.79L599.40 926.90L599.50 926.62L599.60 926.74L599.80 926.73L600.10 926.31L600.40 926.49L600.50 926.44L600.80 927.13L600.90 927.03L601.00 927.28L601.20 927.06L601.40 927.26L601.90 926.40L602.10 926.79L602.20 926.50L602.40 926.54L602.60 926.42L602.90 926.50L603.00 926.36L603.10 926.47L603.30 926.45L603.80 925.41L603.90 925.36L604.40 924.07L604.60 923.91L604.80 923.04L605.50 921.33L605.60 921.54L605.70 921.56L606.20 922.86L606.30 922.76L606.40 923.36L606.50 923.27L606.90 923.91L607.00 923.87L607.20 924.62L607.30 924.59L607.50 924.87L607.60 924.78L607.90 925.25L608.50 926.87L608.80 927.26L609.00 926.78L609.10 926.88L609.20 926.55L609.50 926.17L609.60 926.29L609.80 926.14L609.90 926.41L610.00 926.37L610.10 926.59L610.20 926.68L610.30 926.63L610.40 926.82L610.50 926.49L610.70 926.75L610.80 926.50L611.10 926.23L611.20 926.54L611.50 926.30L611.90 926.53L612.30 925.92L612.50 926.31L612.80 926.08L613.30 926.58L613.40 926.21L613.50 926.38L613.80 926.50L613.90 926.41L614.00 926.68L614.20 926.27L614.30 926.42L614.40 926.29L614.60 926.36L614.80 926.61L614.90 926.44L615.00 926.86L615.20 926.70L615.50 927.11L615.60 926.88L615.80 926.90L615.90 926.67L616.10 926.73L616.20 926.52L616.30 926.50L616.40 926.20L616.60 926.83L616.90 926.65L617.10 926.81L617.20 926.70L617.30 926.92L617.40 926.90L617.50 926.66L617.80 927.10L618.10 927.06L618.40 926.45L618.80 926.70L619.10 926.70L619.30 926.98L619.70 926.63L619.80 926.79L619.90 926.70L620.10 926.95L620.30 926.64L620.40 926.80L620.70 926.35L620.90 926.40L621.00 926.22L621.40 926.87L621.60 926.92L621.80 926.60L621.90 926.64L622.00 926.42L622.10 926.39L622.20 926.13L622.30 926.13L622.60 926.75L622.80 926.62L622.90 926.71L623.40 925.72L623.70 925.36L623.80 925.37L623.90 925.21L624.00 925.25L624.20 924.84L624.40 924.88L624.60 924.50L624.80 924.44L625.20 923.62L625.30 923.49L625.40 923.53L625.60 923.18L625.70 923.17L626.10 923.61L626.40 923.29L626.50 923.38L626.60 923.70L626.70 923.69L626.80 924.16L627.00 924.28L627.10 924.50L627.40 925.42L627.50 925.22L627.60 925.51L627.70 925.31L628.00 926.18L628.10 926.16L628.20 926.28L628.30 926.09L628.60 926.40L628.70 926.34L628.90 925.71L629.10 925.62L629.20 925.90L629.30 925.93L629.50 925.91L629.60 925.68L629.80 926.15L629.90 926.13L630.00 926.32L630.10 926.21L630.20 926.26L630.30 926.02L630.40 926.04L630.60 926.43L630.70 926.24L631.10 926.14L631.30 926.59L631.40 926.48L631.50 926.53L631.60 926.75L631.80 926.78L631.90 926.41L632.20 926.43L632.30 926.57L632.50 926.26L632.60 926.64L632.70 926.50L632.90 926.63L633.10 926.25L633.20 926.20L633.40 926.46L633.50 926.16L633.80 926.16L634.00 925.51L634.10 925.53L634.30 925.14L634.70 924.82L634.90 925.37L635.30 924.67L635.60 924.70L635.80 923.95L635.90 924.19L636.10 923.98L636.20 924.11L636.50 923.05L636.70 922.77L637.00 921.30L637.40 920.17L637.70 918.73L638.30 916.97L638.60 916.59L639.00 915.62L639.20 915.55L639.40 915.89L639.70 915.83L639.90 916.20L640.10 917.02L640.20 917.05L640.40 917.43L640.60 918.58L640.70 918.89L641.00 919.31L641.30 920.49L641.40 920.52L641.50 920.31L641.70 921.07L641.80 921.25L641.90 921.25L642.30 922.91L642.70 924.07L642.80 924.69L643.00 924.71L643.10 924.54L643.40 925.69L643.50 925.27L643.70 925.21L644.00 925.75L644.30 925.77L644.60 926.28L644.90 925.99L645.10 925.98L645.20 925.79L645.40 925.83L645.50 925.67L646.10 926.02L646.40 926.49L646.50 926.45L646.60 926.62L646.90 926.37L647.00 926.46L647.30 925.91L647.50 925.95L647.60 926.09L647.70 926.06L648.20 926.60L648.30 926.37L648.40 926.48L648.60 926.33L648.80 926.42L649.00 926.16L649.20 926.21L649.30 925.90L649.40 926.09L649.60 925.84L650.10 926.13L650.20 926.44L650.30 926.20L650.40 926.32L650.50 926.31L650.70 926.10L651.10 925.07L651.40 924.61L651.50 924.19L651.60 924.07L651.70 924.10L652.00 923.66L652.30 922.61L652.70 921.81L652.90 921.82L653.30 922.88L653.40 922.83L653.50 923.04L653.80 923.99L654.20 924.26L654.40 924.85L654.50 924.66L654.60 924.76L654.70 924.67L654.90 925.14L655.00 925.02L655.10 925.27L655.30 924.94L655.40 925.12L655.50 924.92L655.60 924.97L655.80 924.34L655.90 924.46L656.10 923.99L656.20 924.16L656.50 923.33L656.60 923.38L656.80 922.50L657.40 920.99L658.00 918.10L658.30 916.02L659.20 912.11L659.80 908.54L660.10 907.78L660.30 907.56L660.70 908.12L660.90 908.00L661.30 908.97L661.70 910.72L662.60 916.51L663.10 918.08L664.10 922.45L664.50 923.35L664.60 923.94L664.90 924.45L665.00 924.31L665.30 925.13L665.50 925.18L665.60 925.57L665.80 925.48L665.90 925.79L666.00 925.64L666.20 925.74L666.30 925.97L666.50 925.79L666.90 926.54L667.10 926.34L667.20 926.36L667.30 926.62L667.80 926.27L667.90 926.47L668.00 926.32L668.10 926.44L668.30 926.20L668.40 926.33L668.60 926.08L668.80 925.99L668.90 926.28L669.10 926.27L669.30 926.52L669.70 927.39L670.10 926.79L670.20 926.83"/>
</g>
<g fill="none" stroke="#000" stroke-width="2.3" stroke-linecap="butt"><rect x="51.0" y="2.9" width="619.2" height="944.8" fill="none"/><path d="M51.0 317.7H670.2M51.0 632.6H670.2"/><path d="M95.23 317.7V311.7M139.46 317.7V306.2M183.69 317.7V311.7M227.91 317.7V306.2M272.14 317.7V311.7M316.37 317.7V306.2M360.60 317.7V311.7M404.83 317.7V306.2M449.06 317.7V311.7M493.29 317.7V306.2M537.51 317.7V311.7M581.74 317.7V306.2M625.97 317.7V311.7M95.23 632.6V626.6M139.46 632.6V621.1M183.69 632.6V626.6M227.91 632.6V621.1M272.14 632.6V626.6M316.37 632.6V621.1M360.60 632.6V626.6M404.83 632.6V621.1M449.06 632.6V626.6M493.29 632.6V621.1M537.51 632.6V626.6M581.74 632.6V621.1M625.97 632.6V626.6M95.23 947.7V941.7M139.46 947.7V936.2M183.69 947.7V941.7M227.91 947.7V936.2M272.14 947.7V941.7M316.37 947.7V936.2M360.60 947.7V941.7M404.83 947.7V936.2M449.06 947.7V941.7M493.29 947.7V936.2M537.51 947.7V941.7M581.74 947.7V936.2M625.97 947.7V941.7"/></g>
<g fill="#000" font-family="'Liberation Sans', sans-serif"><text x="50.8" y="981.4" font-size="26.3" text-anchor="middle">10</text>
<text x="139.3" y="981.4" font-size="26.3" text-anchor="middle">20</text>
<text x="227.7" y="981.4" font-size="26.3" text-anchor="middle">30</text>
<text x="316.2" y="981.4" font-size="26.3" text-anchor="middle">40</text>
<text x="404.6" y="981.4" font-size="26.3" text-anchor="middle">50</text>
<text x="493.1" y="981.4" font-size="26.3" text-anchor="middle">60</text>
<text x="581.5" y="981.4" font-size="26.3" text-anchor="middle">70</text>
<text x="670.0" y="981.4" font-size="26.3" text-anchor="middle">80</text>
<text x="360.6" y="1029.9" font-size="32" text-anchor="middle">2&#920; (&#176;)</text>
<text transform="translate(24.8 475.6) rotate(-90)" font-size="31.7" text-anchor="middle">Intensity (a.u.)</text>
<text x="650.4" y="40.9" font-size="29.5" text-anchor="end">Initial Reactants</text>
<text x="650.4" y="356.2" font-size="29.5" text-anchor="end">T = 695&#176;C</text>
<text x="497.7" y="396.4" font-size="29.5">P<tspan font-size="19.8" dx="-1.6" dy="7.4">Ar</tspan></text>
<text x="649.7" y="396.4" font-size="29.5" text-anchor="end" word-spacing="-0.6">= 1 atm.</text>
<text x="650.4" y="670.6" font-size="29.5" text-anchor="end">T = 695&#176;C</text>
<text x="492.1" y="711.4" font-size="29.5">P<tspan font-size="19.8" dy="7.4">H2</tspan></text>
<text x="650.9" y="711.4" font-size="29.5" text-anchor="end" word-spacing="-1.0">= 1 atm.</text>
<text x="113.0" y="43.7" font-size="20.3">Mg</text>
<text x="113.0" y="70.2" font-size="20.3">Nd<tspan font-size="13.7" dy="5.0">2</tspan><tspan dy="-5.0">O</tspan><tspan font-size="13.7" dy="5.0">3</tspan></text>
<text x="113.0" y="98.2" font-size="20.3">Mg<tspan font-size="13.7" dy="5.0">12</tspan><tspan dy="-5.0">Nd</tspan></text>
<text x="113.0" y="125.7" font-size="20.3">Mg<tspan font-size="13.7" dy="5.0">41</tspan><tspan dy="-5.0">Nd</tspan><tspan font-size="13.7" dy="5.0">5</tspan></text>
<text x="113.0" y="152.9" font-size="20.3">MgO</text>
<text x="113.0" y="181.6" font-size="20.3">NdH<tspan font-size="13.7" dy="5.0">y</tspan></text></g>
</svg>
</body></html>
